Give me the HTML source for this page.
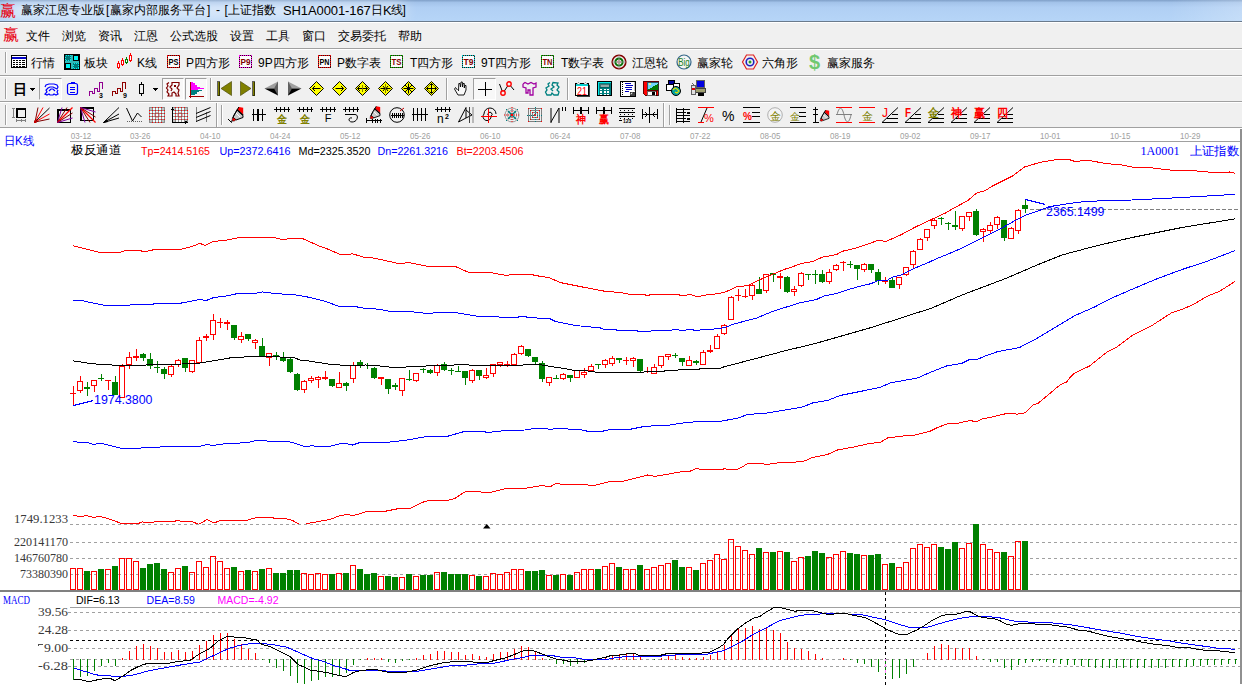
<!DOCTYPE html><html><head><meta charset="utf-8"><title>chart</title><style>html,body{margin:0;padding:0;background:#fff}
body{width:1242px;height:685px;overflow:hidden;position:relative;font-family:"Liberation Sans",sans-serif;font-size:12px;color:#000}
#title{position:absolute;left:0;top:0;width:1242px;height:21px;background:linear-gradient(to right,rgba(255,255,255,0) 0,rgba(255,255,255,0) 1170px,rgba(255,255,255,0.22) 1242px),linear-gradient(#7f9fc8 0%,#a3c3ea 12%,#b0cff4 35%,#b6d5f7 100%);overflow:hidden}
#glow{position:absolute;left:8px;top:3px;width:396px;height:15px;background:rgba(255,255,255,0.62);filter:blur(7px)}
#tline{position:absolute;left:0;top:21px;width:1242px;height:1px;background:#6a7a8c}
#menu{position:absolute;left:0;top:22px;width:1242px;height:26px;background:#f0f0f0;border-top:1px solid #fff;box-sizing:border-box}
.tb{position:absolute;left:0;width:1242px;background:#f0f0f0;box-sizing:border-box;border-top:1px solid #a0a0a0}
.tb:before{content:"";position:absolute;left:0;top:0;width:100%;height:1px;background:#fff}
.t{position:absolute;white-space:nowrap;line-height:14px}
</style></head><body>
<div id="title"><div id="glow"></div></div><div id="tline"></div><div id="menu"></div>
<div class="t" style="left:0px;top:2px;color:#e80010;font-size:16px;line-height:18px;font-family:'Liberation Serif',serif">赢</div>
<div class="t" style="left:21px;top:3px;font-size:12px;line-height:15px">赢家江恩专业版</div>
<div class="t" style="left:106px;top:3px;font-size:12px;line-height:15px">[</div>
<div class="t" style="left:110px;top:3px;font-size:12px;line-height:15px">赢家内部服务平台</div>
<div class="t" style="left:207px;top:3px;font-size:12px;line-height:15px">]</div>
<div class="t" style="left:216px;top:3px;font-size:12px;line-height:15px">-</div>
<div class="t" style="left:224.5px;top:3px;font-size:12px;line-height:15px">[</div>
<div class="t" style="left:228px;top:3px;font-size:12px;line-height:15px">上证指数</div>
<div class="t" style="left:283px;top:3px;font-size:13px;line-height:15px;letter-spacing:-0.1px">SH1A0001-167</div>
<div class="t" style="left:371px;top:3px;font-size:12px;line-height:15px">日</div>
<div class="t" style="left:383px;top:3px;font-size:13px;line-height:15px">K</div>
<div class="t" style="left:390.5px;top:3px;font-size:12px;line-height:15px">线</div>
<div class="t" style="left:402.5px;top:3px;font-size:12px;line-height:15px">]</div>
<div class="t" style="left:3px;top:26px;color:#e80010;font-size:16px;line-height:18px;font-family:'Liberation Serif',serif">赢</div>
<div class="t" style="left:26px;top:28px;line-height:16px">文件</div>
<div class="t" style="left:62px;top:28px;line-height:16px">浏览</div>
<div class="t" style="left:98px;top:28px;line-height:16px">资讯</div>
<div class="t" style="left:134px;top:28px;line-height:16px">江恩</div>
<div class="t" style="left:170px;top:28px;line-height:16px">公式选股</div>
<div class="t" style="left:230px;top:28px;line-height:16px">设置</div>
<div class="t" style="left:266px;top:28px;line-height:16px">工具</div>
<div class="t" style="left:302px;top:28px;line-height:16px">窗口</div>
<div class="t" style="left:338px;top:28px;line-height:16px">交易委托</div>
<div class="t" style="left:398px;top:28px;line-height:16px">帮助</div>
<div class="tb" style="top:48px;height:27px"></div>
<div class="tb" style="top:75px;height:26px"></div>
<div class="tb" style="top:101px;height:27px"></div>
<div style="position:absolute;left:0;top:127px;width:1242px;height:1px;background:#a0a0a0"></div>
<div style="position:absolute;left:5px;top:52px;width:1px;height:21px;background:#a0a0a0"></div><div style="position:absolute;left:6px;top:52px;width:1px;height:21px;background:#fff"></div>
<svg width="16" height="13" viewBox="0 0 16 13" style="position:absolute;left:11px;top:55px;overflow:visible" shape-rendering="crispEdges" ><rect x="0.5" y="0.5" width="15" height="12" fill="#fff" stroke="#000"/><rect x="1" y="2" width="14" height="2" fill="#0000c8" /><line x1="2" y1="5.5" x2="14" y2="5.5" stroke="#000" stroke-width="1" /><line x1="2" y1="7.5" x2="14" y2="7.5" stroke="#000" stroke-width="1" /><line x1="2" y1="9.5" x2="14" y2="9.5" stroke="#000" stroke-width="1" /><line x1="2" y1="11.5" x2="14" y2="11.5" stroke="#000" stroke-width="1" /><line x1="4.5" y1="4" x2="4.5" y2="12" stroke="#fff" stroke-width="1" /><line x1="7.5" y1="4" x2="7.5" y2="12" stroke="#fff" stroke-width="1" /><line x1="10.5" y1="4" x2="10.5" y2="12" stroke="#fff" stroke-width="1" /></svg>
<div class="t" style="left:31px;top:56px;">行情</div>
<svg width="16" height="16" viewBox="0 0 16 16" style="position:absolute;left:64px;top:54px;overflow:visible" shape-rendering="crispEdges" ><rect x="0.5" y="0.5" width="15" height="15" fill="#30b8b8" stroke="#000"/><rect x="1" y="1" width="6" height="6" fill="#007878" /><rect x="1.5" y="1.5" width="5" height="5" fill="none" stroke="#00f0f0" stroke-dasharray="1 1"/><rect x="9.5" y="1.5" width="5" height="5" fill="#00f8f8" stroke="#000"/><rect x="1.5" y="9.5" width="5" height="5" fill="#00f8f8" stroke="#000"/><rect x="9" y="9" width="6" height="6" fill="#007878" /><rect x="9.5" y="9.5" width="5" height="5" fill="none" stroke="#00f0f0" stroke-dasharray="1 1"/></svg>
<div class="t" style="left:84px;top:56px;">板块</div>
<svg width="17" height="17" viewBox="0 0 17 17" style="position:absolute;left:116px;top:53px;overflow:visible" shape-rendering="crispEdges" ><line x1="2.5" y1="8" x2="2.5" y2="16" stroke="#ff0000" stroke-width="1" /><rect x="1.5" y="10" width="2" height="4" fill="#fff" stroke="#ff0000"/><line x1="6.5" y1="5" x2="6.5" y2="13" stroke="#ff0000" stroke-width="1" /><rect x="5.5" y="7" width="2" height="4" fill="#fff" stroke="#ff0000"/><line x1="10.5" y1="4" x2="10.5" y2="11" stroke="#008000" stroke-width="1" /><rect x="9.5" y="6" width="2" height="3" fill="#fff" stroke="#008000"/><line x1="14.5" y1="0" x2="14.5" y2="9" stroke="#ff0000" stroke-width="1" /><rect x="13.5" y="2" width="2" height="5" fill="#fff" stroke="#ff0000"/></svg>
<div class="t" style="left:137px;top:56px;">K线</div>
<svg width="13" height="13" viewBox="0 0 13 13" style="position:absolute;left:167px;top:55px;overflow:visible" shape-rendering="crispEdges" ><rect x="0.5" y="0.5" width="12" height="12" fill="#fcfcfc" stroke="#ff0000"/><rect x="0.5" y="0.5" width="12" height="12" fill="none" stroke="#301010" stroke-dasharray="1 1"/><text x="6.5" y="10" font-size="9" fill="#000" font-family="'Liberation Sans',sans-serif" shape-rendering="auto" text-anchor="middle" font-weight="bold" textLength="10" lengthAdjust="spacingAndGlyphs">PS</text></svg>
<div class="t" style="left:186px;top:56px;">P四方形</div>
<svg width="13" height="13" viewBox="0 0 13 13" style="position:absolute;left:239px;top:55px;overflow:visible" shape-rendering="crispEdges" ><rect x="0.5" y="0.5" width="12" height="12" fill="#fcfcfc" stroke="#ff00ff"/><rect x="0.5" y="0.5" width="12" height="12" fill="none" stroke="#301010" stroke-dasharray="1 1"/><text x="6.5" y="10" font-size="9" fill="#800000" font-family="'Liberation Sans',sans-serif" shape-rendering="auto" text-anchor="middle" font-weight="bold" textLength="10" lengthAdjust="spacingAndGlyphs">P9</text></svg>
<div class="t" style="left:258px;top:56px;">9P四方形</div>
<svg width="13" height="13" viewBox="0 0 13 13" style="position:absolute;left:318px;top:55px;overflow:visible" shape-rendering="crispEdges" ><rect x="0.5" y="0.5" width="12" height="12" fill="#fcfcfc" stroke="#ff0000"/><rect x="0.5" y="0.5" width="12" height="12" fill="none" stroke="#301010" stroke-dasharray="1 1"/><text x="6.5" y="10" font-size="9" fill="#000" font-family="'Liberation Sans',sans-serif" shape-rendering="auto" text-anchor="middle" font-weight="bold" textLength="10" lengthAdjust="spacingAndGlyphs">PN</text></svg>
<div class="t" style="left:337px;top:56px;">P数字表</div>
<svg width="13" height="13" viewBox="0 0 13 13" style="position:absolute;left:390px;top:55px;overflow:visible" shape-rendering="crispEdges" ><rect x="0.5" y="0.5" width="12" height="12" fill="#fcfcfc" stroke="#00c000"/><rect x="0.5" y="0.5" width="12" height="12" fill="none" stroke="#301010" stroke-dasharray="1 1"/><text x="6.5" y="10" font-size="9" fill="#800000" font-family="'Liberation Sans',sans-serif" shape-rendering="auto" text-anchor="middle" font-weight="bold" textLength="10" lengthAdjust="spacingAndGlyphs">TS</text></svg>
<div class="t" style="left:410px;top:56px;">T四方形</div>
<svg width="13" height="13" viewBox="0 0 13 13" style="position:absolute;left:462px;top:55px;overflow:visible" shape-rendering="crispEdges" ><rect x="0.5" y="0.5" width="12" height="12" fill="#fcfcfc" stroke="#00d0d0"/><rect x="0.5" y="0.5" width="12" height="12" fill="none" stroke="#301010" stroke-dasharray="1 1"/><text x="6.5" y="10" font-size="9" fill="#800000" font-family="'Liberation Sans',sans-serif" shape-rendering="auto" text-anchor="middle" font-weight="bold" textLength="10" lengthAdjust="spacingAndGlyphs">T9</text></svg>
<div class="t" style="left:481px;top:56px;">9T四方形</div>
<svg width="13" height="13" viewBox="0 0 13 13" style="position:absolute;left:541px;top:55px;overflow:visible" shape-rendering="crispEdges" ><rect x="0.5" y="0.5" width="12" height="12" fill="#fcfcfc" stroke="#00c000"/><rect x="0.5" y="0.5" width="12" height="12" fill="none" stroke="#301010" stroke-dasharray="1 1"/><text x="6.5" y="10" font-size="9" fill="#800000" font-family="'Liberation Sans',sans-serif" shape-rendering="auto" text-anchor="middle" font-weight="bold" textLength="10" lengthAdjust="spacingAndGlyphs">TN</text></svg>
<div class="t" style="left:561px;top:56px;">T数字表</div>
<svg width="16" height="16" viewBox="0 0 16 16" style="position:absolute;left:611px;top:54px;overflow:visible"  ><circle cx="8" cy="8" r="6.8" stroke="#800000" fill="#f0f0f0" stroke-width="1.6" shape-rendering="auto" /><circle cx="8" cy="8" r="3.6" stroke="#007000" fill="none" stroke-width="2" shape-rendering="auto" /><circle cx="8" cy="8" r="1.4" stroke="#e08080" fill="#f0d0d0" stroke-width="0.8" shape-rendering="auto" /><line x1="8" y1="1" x2="8" y2="15" stroke="#909090" stroke-width="0.8" shape-rendering="auto"/><line x1="1" y1="8" x2="15" y2="8" stroke="#909090" stroke-width="0.8" shape-rendering="auto"/></svg>
<div class="t" style="left:632px;top:56px;">江恩轮</div>
<svg width="16" height="16" viewBox="0 0 16 16" style="position:absolute;left:676px;top:54px;overflow:visible"  ><circle cx="8" cy="8" r="7" stroke="#336688" fill="#f4f4f4" stroke-width="1.2" shape-rendering="auto" /><text x="8" y="12" font-size="11" fill="#208020" font-family="'Liberation Sans',sans-serif" shape-rendering="auto" text-anchor="middle" textLength="11.5" lengthAdjust="spacingAndGlyphs">Big</text></svg>
<div class="t" style="left:697px;top:56px;">赢家轮</div>
<svg width="16" height="16" viewBox="0 0 16 16" style="position:absolute;left:742px;top:54px;overflow:visible"  ><polygon points="4.5,1 11.5,1 15.5,8 11.5,15 4.5,15 0.5,8" fill="#f0f0f0" stroke="#e02020" stroke-width="1.2" shape-rendering="auto"/><circle cx="8" cy="8" r="3.8" stroke="#2020c0" fill="none" stroke-width="1.6" shape-rendering="auto" /><circle cx="8" cy="8" r="1.2" stroke="#20a020" fill="#20a020" stroke-width="0.5" shape-rendering="auto" /></svg>
<div class="t" style="left:762px;top:56px;">六角形</div>
<div class="t" style="left:809px;top:51px;color:#70c870;font-size:20px;font-weight:bold;line-height:22px">$</div>
<div class="t" style="left:827px;top:56px;">赢家服务</div>
<div style="position:absolute;left:5px;top:79px;width:1px;height:20px;background:#a0a0a0"></div><div style="position:absolute;left:6px;top:79px;width:1px;height:20px;background:#fff"></div>
<div class="t" style="left:13px;top:81px;font-weight:bold;font-size:14px;line-height:16px">日</div>
<svg width="5" height="3" viewBox="0 0 5 3" style="position:absolute;left:30px;top:88px;overflow:visible" shape-rendering="crispEdges" ><polygon points="0,0 5,0 2.5,3" fill="#000" stroke="none" stroke-width="1" /></svg>
<div style="position:absolute;left:39px;top:78px;width:23px;height:22px;background:#f8f8f8;border:1px solid;border-color:#a0a0a0 #fff #fff #a0a0a0;box-sizing:border-box"></div>
<svg width="15" height="13" viewBox="0 0 15 13" style="position:absolute;left:44px;top:83px;overflow:visible"  ><polyline points="1,4 2,2 5,1 10,1 13,2 14,4 13,6 11,5 9,4 6,4 4,5 2,7 3,9 1,11 3,12 5,11 6,12 9,12 10,11 12,12 14,11 13,9 14,7" stroke="#0000ff" fill="none" stroke-width="1.2" shape-rendering="auto"/><polyline points="5,8 7,6 9,6 11,8" stroke="#0000ff" fill="none" stroke-width="1.2" shape-rendering="auto"/></svg>
<svg width="11" height="13" viewBox="0 0 11 13" style="position:absolute;left:67px;top:82px;overflow:visible" shape-rendering="crispEdges" ><rect x="0.5" y="1.5" width="10" height="11" rx="2" ry="2" fill="none" stroke="#0000ff" stroke-width="1.2" shape-rendering="auto"/><rect x="3.5" y="0" width="4" height="2" fill="#0000ff" /><line x1="3" y1="5" x2="8" y2="5" stroke="#0000ff" stroke-width="1" /><line x1="3" y1="7.5" x2="8" y2="7.5" stroke="#0000ff" stroke-width="1" /><line x1="3" y1="10" x2="8" y2="10" stroke="#0000ff" stroke-width="1" /></svg>
<svg width="14" height="15" viewBox="0 0 14 15" style="position:absolute;left:89px;top:82px;overflow:visible" shape-rendering="crispEdges" ><polyline points="0.5,13.5 0.5,9.5 3.5,9.5 3.5,11.5 5.5,11.5 5.5,6.5 8.5,6.5 8.5,9.5 10.5,9.5 10.5,0.5 13.5,0.5 13.5,6.5" stroke="#900090" fill="none" stroke-width="1" /><text x="10" y="16" font-size="7" fill="#000" font-family="'Liberation Sans',sans-serif" shape-rendering="auto" font-weight="bold">3</text></svg>
<svg width="14" height="15" viewBox="0 0 14 15" style="position:absolute;left:112px;top:82px;overflow:visible" shape-rendering="crispEdges" ><polyline points="0.5,13.5 0.5,9.5 3.5,9.5 3.5,11.5 5.5,11.5 5.5,6.5 8.5,6.5 8.5,9.5 10.5,9.5 10.5,0.5 13.5,0.5 13.5,6.5" stroke="#900000" fill="none" stroke-width="1" /><text x="11" y="16" font-size="7" fill="#000" font-family="'Liberation Sans',sans-serif" shape-rendering="auto" font-weight="bold">9</text></svg>
<svg width="5" height="14" viewBox="0 0 5 14" style="position:absolute;left:139px;top:82px;overflow:visible" shape-rendering="crispEdges" ><line x1="2.5" y1="0" x2="2.5" y2="14" stroke="#000" stroke-width="1" /><rect x="0.5" y="2.5" width="4" height="9" fill="#f0f0f0" stroke="#000"/></svg>
<svg width="5" height="3" viewBox="0 0 5 3" style="position:absolute;left:153px;top:88px;overflow:visible" shape-rendering="crispEdges" ><polygon points="0,0 5,0 2.5,3" fill="#000" stroke="none" stroke-width="1" /></svg>
<div style="position:absolute;left:162px;top:78px;width:22px;height:22px;background:#f8f8f8;border:1px solid;border-color:#a0a0a0 #fff #fff #a0a0a0;box-sizing:border-box"></div>
<svg width="14" height="15" viewBox="0 0 14 15" style="position:absolute;left:166px;top:82px;overflow:visible"  ><polyline points="3,0.5 1,2 2,4 0.5,6 2,8 1,10 3,12 2,14 6,14 6,11 8,10 10,12 10,14 13,14 12,11 13,8 11,6 13,3 13,0.5 6,0.5 6,3 4,5 6,7 5,9" stroke="#800000" fill="none" stroke-width="1.2" shape-rendering="auto"/><rect x="8" y="3" width="2" height="2" fill="#800000" /></svg>
<div style="position:absolute;left:185px;top:78px;width:22px;height:22px;background:#f8f8f8;border:1px solid;border-color:#a0a0a0 #fff #fff #a0a0a0;box-sizing:border-box"></div>
<svg width="16" height="16" viewBox="0 0 16 16" style="position:absolute;left:189px;top:82px;overflow:visible" shape-rendering="crispEdges" ><polygon points="2,0 2,8 15,7 15,6 11,6 11,5 8,5 8,3 6,3 6,1 4,1 4,0" fill="#ff00ff" stroke="none" stroke-width="1" /><polygon points="2,8 13,8 13,9 10,9 10,10 8,10 8,12 6,12 6,13 2,13" fill="#008080" stroke="none" stroke-width="1" /><line x1="1.5" y1="0" x2="1.5" y2="16" stroke="#a00000" stroke-width="1" /><line x1="0" y1="14.5" x2="15" y2="14.5" stroke="#a00000" stroke-width="1" /></svg>
<div style="position:absolute;left:210px;top:78px;width:1px;height:22px;background:#a0a0a0"></div><div style="position:absolute;left:211px;top:78px;width:1px;height:22px;background:#fff"></div>
<svg width="15" height="15" viewBox="0 0 15 15" style="position:absolute;left:217px;top:81px;overflow:visible" shape-rendering="crispEdges" ><rect x="0.5" y="0.5" width="2" height="14" fill="#808000" stroke="#000" stroke-width="0.6"/><polygon points="14.5,0.5 14.5,14.5 4,7.5" fill="#808000" stroke="#404000" stroke-width="0.6" shape-rendering="auto"/></svg>
<svg width="15" height="15" viewBox="0 0 15 15" style="position:absolute;left:240px;top:81px;overflow:visible" shape-rendering="crispEdges" ><rect x="12.5" y="0.5" width="2" height="14" fill="#808000" stroke="#000" stroke-width="0.6"/><polygon points="0.5,0.5 0.5,14.5 11,7.5" fill="#808000" stroke="#404000" stroke-width="0.6" shape-rendering="auto"/></svg>
<svg width="15" height="15" viewBox="0 0 15 15" style="position:absolute;left:264px;top:81px;overflow:visible"  ><g shape-rendering="auto"><polygon points="14,0.5 14,7.5 0.5,7.5" fill="#a0a0a0" stroke="none" stroke-width="1" /><polygon points="14,14.5 14,7.5 0.5,7.5" fill="#000" stroke="none" stroke-width="1" /><polygon points="14,0.5 14,14.5 10,7.5" fill="#606060" stroke="none" stroke-width="1" /></g></svg>
<svg width="15" height="15" viewBox="0 0 15 15" style="position:absolute;left:287px;top:81px;overflow:visible"  ><g shape-rendering="auto"><polygon points="1,0.5 1,7.5 14.5,7.5" fill="#a0a0a0" stroke="none" stroke-width="1" /><polygon points="1,14.5 1,7.5 14.5,7.5" fill="#000" stroke="none" stroke-width="1" /><polygon points="1,0.5 1,14.5 5,7.5" fill="#606060" stroke="none" stroke-width="1" /></g></svg>
<svg width="15" height="15" viewBox="0 0 15 15" style="position:absolute;left:309px;top:81px;overflow:visible"  ><g shape-rendering="auto"><polygon points="7.5,0.5 14.5,7.5 7.5,14.5 0.5,7.5" fill="#ffff00" stroke="#000" stroke-width="1" shape-rendering="auto"/><line x1="3.5" y1="7.5" x2="11.5" y2="7.5" stroke="#000" stroke-width="1" /><polyline points="6,5 3.5,7.5 6,10" stroke="#000" fill="none" stroke-width="1" /></g></svg>
<svg width="15" height="15" viewBox="0 0 15 15" style="position:absolute;left:332px;top:81px;overflow:visible"  ><g shape-rendering="auto"><polygon points="7.5,0.5 14.5,7.5 7.5,14.5 0.5,7.5" fill="#ffff00" stroke="#000" stroke-width="1" shape-rendering="auto"/><line x1="3.5" y1="7.5" x2="11.5" y2="7.5" stroke="#000" stroke-width="1" /><polyline points="9,5 11.5,7.5 9,10" stroke="#000" fill="none" stroke-width="1" /></g></svg>
<svg width="15" height="15" viewBox="0 0 15 15" style="position:absolute;left:355px;top:81px;overflow:visible"  ><g shape-rendering="auto"><polygon points="7.5,0.5 14.5,7.5 7.5,14.5 0.5,7.5" fill="#ffff00" stroke="#000" stroke-width="1" shape-rendering="auto"/><line x1="2.5" y1="7.5" x2="12.5" y2="7.5" stroke="#000" stroke-width="1" /><polyline points="5,5 2.5,7.5 5,10" stroke="#000" fill="none" stroke-width="1" /><polyline points="10,5 12.5,7.5 10,10" stroke="#000" fill="none" stroke-width="1" /><line x1="7.5" y1="4" x2="7.5" y2="11" stroke="#808000" stroke-width="1" /></g></svg>
<svg width="15" height="15" viewBox="0 0 15 15" style="position:absolute;left:378px;top:81px;overflow:visible"  ><g shape-rendering="auto"><polygon points="7.5,0.5 14.5,7.5 7.5,14.5 0.5,7.5" fill="#ffff00" stroke="#000" stroke-width="1" shape-rendering="auto"/><line x1="2.5" y1="7.5" x2="12.5" y2="7.5" stroke="#000" stroke-width="1" /><polyline points="5,5 7,7.5 5,10" stroke="#000" fill="none" stroke-width="1" /><polyline points="10,5 8,7.5 10,10" stroke="#000" fill="none" stroke-width="1" /><line x1="7.5" y1="3" x2="7.5" y2="12" stroke="#808000" stroke-width="1" /></g></svg>
<svg width="15" height="15" viewBox="0 0 15 15" style="position:absolute;left:401px;top:81px;overflow:visible"  ><g shape-rendering="auto"><polygon points="7.5,0.5 14.5,7.5 7.5,14.5 0.5,7.5" fill="#ffff00" stroke="#000" stroke-width="1" shape-rendering="auto"/><line x1="2.5" y1="7.5" x2="12.5" y2="7.5" stroke="#000" stroke-width="1" /><line x1="7.5" y1="2.5" x2="7.5" y2="12.5" stroke="#000" stroke-width="1" /><line x1="4" y1="4" x2="11" y2="11" stroke="#000" stroke-width="1" /><line x1="11" y1="4" x2="4" y2="11" stroke="#000" stroke-width="1" /></g></svg>
<svg width="15" height="15" viewBox="0 0 15 15" style="position:absolute;left:424px;top:81px;overflow:visible"  ><g shape-rendering="auto"><polygon points="7.5,0.5 14.5,7.5 7.5,14.5 0.5,7.5" fill="#ffff00" stroke="#000" stroke-width="1" shape-rendering="auto"/><line x1="2.5" y1="7.5" x2="12.5" y2="7.5" stroke="#000" stroke-width="1" /><line x1="7.5" y1="2.5" x2="7.5" y2="12.5" stroke="#000" stroke-width="1" /><polyline points="5.5,4.5 7.5,2.5 9.5,4.5" stroke="#000" fill="none" stroke-width="1" /><polyline points="5.5,10.5 7.5,12.5 9.5,10.5" stroke="#000" fill="none" stroke-width="1" /><polyline points="4.5,5.5 2.5,7.5 4.5,9.5" stroke="#000" fill="none" stroke-width="1" /><polyline points="10.5,5.5 12.5,7.5 10.5,9.5" stroke="#000" fill="none" stroke-width="1" /></g></svg>
<div style="position:absolute;left:446px;top:78px;width:1px;height:22px;background:#a0a0a0"></div><div style="position:absolute;left:447px;top:78px;width:1px;height:22px;background:#fff"></div>
<svg width="13" height="15" viewBox="0 0 13 15" style="position:absolute;left:454px;top:81px;overflow:visible"  ><g shape-rendering="auto"><polyline points="3.5,9 1.5,6.5 0.5,8 4,14 10,14 12,9 12,4.5 10.8,4.5 10.3,7 10.3,2.5 9,2.5 8.5,6 8.3,1 7,1 6.5,6 6,2.5 4.8,2.5 4.5,10" stroke="#000" fill="#f8f8f8" stroke-width="0.9" /></g></svg>
<div style="position:absolute;left:473px;top:78px;width:23px;height:22px;background:#f8f8f8;border:1px solid;border-color:#a0a0a0 #fff #fff #a0a0a0;box-sizing:border-box"></div>
<svg width="14" height="14" viewBox="0 0 14 14" style="position:absolute;left:478px;top:82px;overflow:visible" shape-rendering="crispEdges" ><line x1="0" y1="7.5" x2="14" y2="7.5" stroke="#000" stroke-width="1" /><line x1="7.5" y1="0" x2="7.5" y2="14" stroke="#000" stroke-width="1" /></svg>
<svg width="16" height="15" viewBox="0 0 16 15" style="position:absolute;left:499px;top:81px;overflow:visible"  ><g shape-rendering="auto"><polyline points="0.5,3 4,12 10,3 15,9" stroke="#000" fill="none" stroke-width="1" /><circle cx="4" cy="12" r="2.2" stroke="#ff0000" fill="#f0f0f0" stroke-width="1.4" shape-rendering="auto" /><circle cx="10" cy="3" r="2.2" stroke="#ff0000" fill="#f0f0f0" stroke-width="1.4" shape-rendering="auto" /></g></svg>
<svg width="15" height="14" viewBox="0 0 15 14" style="position:absolute;left:522px;top:82px;overflow:visible"  ><polyline points="1,2 3,0.5 6,2 9,0.5 12,2 14,1 14,5 11,6 11,13 8,13 8,8 6,8 6,11 4,11 4,6 1,5 1,2" stroke="#a000a0" fill="none" stroke-width="1.3" shape-rendering="auto"/></svg>
<svg width="15" height="14" viewBox="0 0 15 14" style="position:absolute;left:545px;top:82px;overflow:visible"  ><polyline points="5,0.5 3,2 4,4 1,6 2,8 0.5,10 2,13 6,13 7,11 9,13 13,13 14,10 12,8 14,5 12,3 13,1 8,0.5 7,3 9,5 6,7 8,9" stroke="#008080" fill="none" stroke-width="1.3" shape-rendering="auto"/></svg>
<div style="position:absolute;left:567px;top:78px;width:1px;height:22px;background:#a0a0a0"></div><div style="position:absolute;left:568px;top:78px;width:1px;height:22px;background:#fff"></div>
<svg width="15" height="15" viewBox="0 0 15 15" style="position:absolute;left:575px;top:81px;overflow:visible" shape-rendering="crispEdges" ><rect x="0.5" y="2.5" width="13" height="12" fill="#fff" stroke="#000"/><rect x="1" y="3" width="12" height="2" fill="#00d8d8" /><rect x="13.5" y="4" width="1.5" height="11.5" fill="#404040" /><rect x="1.5" y="14.5" width="13" height="1" fill="#404040" /><polygon points="2,3 3.5,0.5 5,3" fill="#fff" stroke="#808080" stroke-width="0.5" /><polygon points="9,3 10.5,0.5 12,3" fill="#fff" stroke="#808080" stroke-width="0.5" /><text x="7" y="13.5" font-size="10" fill="#ff0000" font-family="'Liberation Sans',sans-serif" shape-rendering="auto" text-anchor="middle" textLength="10" lengthAdjust="spacingAndGlyphs">21</text></svg>
<svg width="15" height="15" viewBox="0 0 15 15" style="position:absolute;left:597px;top:81px;overflow:visible" shape-rendering="crispEdges" ><rect x="0.5" y="0.5" width="14" height="14" fill="#008080" stroke="#000"/><rect x="1" y="1" width="1" height="13" fill="#00e8e8" /><rect x="1" y="1" width="13" height="1" fill="#00e8e8" /><rect x="3" y="3" width="9" height="3" fill="#90a8a8" stroke="#004040" stroke-width="0.5"/><rect x="3" y="7.5" width="2" height="1.5" fill="#fff" /><rect x="6.5" y="7.5" width="2" height="1.5" fill="#fff" /><rect x="10" y="7.5" width="2" height="1.5" fill="#fff" /><rect x="3" y="10" width="2" height="1.5" fill="#fff" /><rect x="6.5" y="10" width="2" height="1.5" fill="#fff" /><rect x="10" y="10" width="2" height="1.5" fill="#fff" /><rect x="3" y="12.5" width="2" height="1.5" fill="#fff" /><rect x="6.5" y="12.5" width="2" height="1.5" fill="#fff" /><rect x="10" y="12.5" width="2" height="1.5" fill="#fff" /></svg>
<svg width="16" height="16" viewBox="0 0 16 16" style="position:absolute;left:620px;top:81px;overflow:visible" shape-rendering="crispEdges" ><polygon points="0.5,0.5 15.5,0.5 15.5,15.5 0.5,15.5" fill="#fff" stroke="#000" stroke-width="1" /><polygon points="10,15 15,10 15,15" fill="#404040" stroke="none" stroke-width="1" /><polygon points="10,15 10,11 14,11" fill="#e0e0e0" stroke="#000" stroke-width="0.6" /><line x1="2.5" y1="1" x2="2.5" y2="15" stroke="#000" stroke-width="1" stroke-dasharray="1 1"/><line x1="5" y1="2.5" x2="11" y2="2.5" stroke="#0000c0" stroke-width="1" /><line x1="6" y1="4.5" x2="13" y2="4.5" stroke="#0000c0" stroke-width="1" /><line x1="5" y1="6.5" x2="12" y2="6.5" stroke="#0000c0" stroke-width="1" /><line x1="6" y1="8.5" x2="12" y2="8.5" stroke="#0000c0" stroke-width="1" /><line x1="5" y1="10.5" x2="9" y2="10.5" stroke="#0000c0" stroke-width="1" /><rect x="13.5" y="1" width="1.5" height="9" fill="#c0c0c0" /></svg>
<svg width="16" height="16" viewBox="0 0 16 16" style="position:absolute;left:643px;top:80px;overflow:visible" shape-rendering="crispEdges" ><polygon points="0.5,1.5 15.5,1.5 15.5,15.5 2.5,15.5 0.5,13.5" fill="#ff0000" stroke="#600000" stroke-width="1" /><rect x="4" y="2" width="11" height="8" fill="#70d8f8" stroke="#000" stroke-width="0.6"/><polygon points="4,10 15,4 15,10" fill="#007800" stroke="none" stroke-width="1" /><rect x="6" y="3" width="2" height="2" fill="#f0f080" /><rect x="4" y="11" width="9" height="4.5" fill="#fff" stroke="#000" stroke-width="0.6"/><rect x="9" y="11.5" width="3" height="3.5" fill="#000" /><rect x="15" y="2" width="1" height="14" fill="#303030" /></svg>
<svg width="16" height="16" viewBox="0 0 16 16" style="position:absolute;left:666px;top:80px;overflow:visible" shape-rendering="crispEdges" ><rect x="2.5" y="0.5" width="6" height="5" fill="#0000a0" stroke="#000"/><rect x="0.5" y="4.5" width="7" height="6" fill="#fff" stroke="#000"/><rect x="7.5" y="3.5" width="6" height="5" fill="#fff" stroke="#000"/><circle cx="10" cy="11" r="4.5" stroke="#000" fill="#00a0a0" stroke-width="1" shape-rendering="auto" /><polyline points="7,10 9,8 11,9 13,11 11,13 9,12" stroke="#e0e000" fill="none" stroke-width="1.2" shape-rendering="auto"/></svg>
<svg width="16" height="16" viewBox="0 0 16 16" style="position:absolute;left:690px;top:80px;overflow:visible" shape-rendering="crispEdges" ><rect x="6.5" y="0.5" width="8" height="7" fill="#0000e0" stroke="#606060"/><rect x="5.5" y="8.5" width="10" height="4" fill="#a0a070" stroke="#404040"/><rect x="1.5" y="5.5" width="4" height="9" fill="#e0e0e0" stroke="#606060"/><rect x="2" y="8" width="3" height="2" fill="#e00000" /><rect x="8" y="12.5" width="6" height="3" fill="#000" /><line x1="2" y1="3" x2="4" y2="5" stroke="#606060" stroke-width="1" /></svg>
<div style="position:absolute;left:5px;top:105px;width:1px;height:20px;background:#a0a0a0"></div><div style="position:absolute;left:6px;top:105px;width:1px;height:20px;background:#fff"></div>
<svg width="16" height="16" viewBox="0 0 16 16" style="position:absolute;left:11px;top:107px;overflow:visible" shape-rendering="crispEdges" ><rect x="5.75" y="1.75" width="8.5" height="8.5" fill="#f0f0f0" stroke="#000" stroke-width="1.5"/><line x1="2.5" y1="1" x2="2.5" y2="11" stroke="#808080" stroke-width="1" /><line x1="1" y1="1.5" x2="4" y2="1.5" stroke="#808080" stroke-width="1" /><line x1="1" y1="10.5" x2="4" y2="10.5" stroke="#808080" stroke-width="1" /><line x1="5" y1="13.5" x2="15" y2="13.5" stroke="#808080" stroke-width="1" /><line x1="5.5" y1="12" x2="5.5" y2="15" stroke="#808080" stroke-width="1" /><line x1="14.5" y1="12" x2="14.5" y2="15" stroke="#808080" stroke-width="1" /><line x1="10" y1="12" x2="10" y2="15" stroke="#808080" stroke-width="1" /></svg>
<svg width="16" height="16" viewBox="0 0 16 16" style="position:absolute;left:34px;top:107px;overflow:visible"  ><g shape-rendering="auto"><line x1="1" y1="15" x2="4" y2="0.5" stroke="#800000" stroke-width="1" /><line x1="1" y1="15" x2="9" y2="0.5" stroke="#ff0000" stroke-width="1" /><line x1="1" y1="15" x2="15.5" y2="1" stroke="#000" stroke-width="1" /><line x1="1" y1="15" x2="15.5" y2="7" stroke="#ff0000" stroke-width="1" /><line x1="1" y1="15" x2="15.5" y2="12" stroke="#800000" stroke-width="1" /><rect x="0" y="13.5" width="2.5" height="2.5" fill="#c00000" /></g></svg>
<svg width="16" height="16" viewBox="0 0 16 16" style="position:absolute;left:57px;top:107px;overflow:visible" shape-rendering="crispEdges" ><rect x="0.75" y="2.75" width="12.5" height="12.5" fill="#f0f0f0" stroke="#000" stroke-width="1.5"/><g shape-rendering="auto"><line x1="0.5" y1="15.5" x2="5" y2="0.5" stroke="#8000a0" stroke-width="1" /><line x1="0.5" y1="15.5" x2="10" y2="0.5" stroke="#800000" stroke-width="1" /><line x1="0.5" y1="15.5" x2="15.5" y2="0.5" stroke="#ff0000" stroke-width="1.3" /><line x1="0.5" y1="15.5" x2="15.5" y2="6" stroke="#800000" stroke-width="1" /><line x1="0.5" y1="15.5" x2="15.5" y2="11" stroke="#8000a0" stroke-width="1" /></g></svg>
<svg width="16" height="16" viewBox="0 0 16 16" style="position:absolute;left:80px;top:107px;overflow:visible" shape-rendering="crispEdges" ><rect x="0.75" y="0.75" width="12.5" height="12.5" fill="#f0f0f0" stroke="#000" stroke-width="1.5"/><g shape-rendering="auto"><line x1="0.5" y1="0.5" x2="5" y2="15.5" stroke="#8000a0" stroke-width="1" /><line x1="0.5" y1="0.5" x2="10" y2="15.5" stroke="#800000" stroke-width="1" /><line x1="0.5" y1="0.5" x2="15.5" y2="15.5" stroke="#ff0000" stroke-width="1.3" /><line x1="0.5" y1="0.5" x2="15.5" y2="10" stroke="#800000" stroke-width="1" /><line x1="0.5" y1="0.5" x2="15.5" y2="5" stroke="#8000a0" stroke-width="1" /></g></svg>
<svg width="16" height="16" viewBox="0 0 16 16" style="position:absolute;left:103px;top:107px;overflow:visible"  ><g shape-rendering="auto"><line x1="0.5" y1="15.5" x2="16" y2="0.5" stroke="#000" stroke-width="1" /><line x1="0.5" y1="15.5" x2="16" y2="7" stroke="#000" stroke-width="1" /><line x1="0.5" y1="15.5" x2="16" y2="11" stroke="#000" stroke-width="1" /><polygon points="0,16 4,12.5 5,15" fill="#000" stroke="none" stroke-width="1" /></g></svg>
<svg width="16" height="16" viewBox="0 0 16 16" style="position:absolute;left:126px;top:107px;overflow:visible" shape-rendering="crispEdges" ><g shape-rendering="auto"><polyline points="0.5,1 6.5,14 11.5,6 15.5,10" stroke="#000" fill="none" stroke-width="1" /></g><line x1="1" y1="14.5" x2="16" y2="14.5" stroke="#606060" stroke-width="1" stroke-dasharray="1 1"/></svg>
<svg width="16" height="16" viewBox="0 0 16 16" style="position:absolute;left:149px;top:107px;overflow:visible" shape-rendering="crispEdges" ><rect x="0" y="0" width="16" height="16" fill="#f8f8f8" /><line x1="0.5" y1="0" x2="0.5" y2="16" stroke="#909090" stroke-width="1" /><line x1="0" y1="0.5" x2="16" y2="0.5" stroke="#909090" stroke-width="1" /><line x1="3.5" y1="0" x2="3.5" y2="16" stroke="#909090" stroke-width="1" /><line x1="0" y1="3.5" x2="16" y2="3.5" stroke="#909090" stroke-width="1" /><line x1="6.5" y1="0" x2="6.5" y2="16" stroke="#909090" stroke-width="1" /><line x1="0" y1="6.5" x2="16" y2="6.5" stroke="#909090" stroke-width="1" /><line x1="9.5" y1="0" x2="9.5" y2="16" stroke="#909090" stroke-width="1" /><line x1="0" y1="9.5" x2="16" y2="9.5" stroke="#909090" stroke-width="1" /><line x1="12.5" y1="0" x2="12.5" y2="16" stroke="#909090" stroke-width="1" /><line x1="0" y1="12.5" x2="16" y2="12.5" stroke="#909090" stroke-width="1" /><line x1="15.5" y1="0" x2="15.5" y2="16" stroke="#909090" stroke-width="1" /><line x1="0" y1="15.5" x2="16" y2="15.5" stroke="#909090" stroke-width="1" /><rect x="0" y="3" width="1" height="1" fill="#ff0000" /><rect x="0" y="6" width="1" height="1" fill="#ff0000" /><rect x="0" y="9" width="1" height="1" fill="#ff0000" /><rect x="0" y="12" width="1" height="1" fill="#ff0000" /><rect x="3" y="0" width="1" height="1" fill="#ff0000" /><rect x="3" y="3" width="1" height="1" fill="#ff0000" /><rect x="3" y="6" width="1" height="1" fill="#ff0000" /><rect x="3" y="9" width="1" height="1" fill="#ff0000" /><rect x="3" y="12" width="1" height="1" fill="#ff0000" /><rect x="3" y="15" width="1" height="1" fill="#ff0000" /><rect x="6" y="0" width="1" height="1" fill="#ff0000" /><rect x="6" y="3" width="1" height="1" fill="#ff0000" /><rect x="6" y="6" width="1" height="1" fill="#ff0000" /><rect x="6" y="9" width="1" height="1" fill="#ff0000" /><rect x="6" y="12" width="1" height="1" fill="#ff0000" /><rect x="6" y="15" width="1" height="1" fill="#ff0000" /><rect x="9" y="0" width="1" height="1" fill="#ff0000" /><rect x="9" y="3" width="1" height="1" fill="#ff0000" /><rect x="9" y="6" width="1" height="1" fill="#ff0000" /><rect x="9" y="9" width="1" height="1" fill="#ff0000" /><rect x="9" y="12" width="1" height="1" fill="#ff0000" /><rect x="9" y="15" width="1" height="1" fill="#ff0000" /><rect x="12" y="0" width="1" height="1" fill="#ff0000" /><rect x="12" y="3" width="1" height="1" fill="#ff0000" /><rect x="12" y="6" width="1" height="1" fill="#ff0000" /><rect x="12" y="9" width="1" height="1" fill="#ff0000" /><rect x="12" y="12" width="1" height="1" fill="#ff0000" /><rect x="12" y="15" width="1" height="1" fill="#ff0000" /><rect x="15" y="3" width="1" height="1" fill="#ff0000" /><rect x="15" y="6" width="1" height="1" fill="#ff0000" /><rect x="15" y="9" width="1" height="1" fill="#ff0000" /><rect x="15" y="12" width="1" height="1" fill="#ff0000" /><circle cx="2" cy="2" r="1.2" stroke="#808080" fill="none" stroke-width="0.6" shape-rendering="auto" /><circle cx="14" cy="2" r="1.2" stroke="#808080" fill="none" stroke-width="0.6" shape-rendering="auto" /><circle cx="2" cy="14" r="1.2" stroke="#808080" fill="none" stroke-width="0.6" shape-rendering="auto" /><circle cx="14" cy="14" r="1.2" stroke="#808080" fill="none" stroke-width="0.6" shape-rendering="auto" /><circle cx="8" cy="8" r="2.2" stroke="#c04040" fill="none" stroke-width="0.7" shape-rendering="auto" /></svg>
<svg width="16" height="16" viewBox="0 0 16 16" style="position:absolute;left:172px;top:107px;overflow:visible" shape-rendering="crispEdges" ><rect x="0" y="0" width="16" height="16" fill="#f8f8f8" /><line x1="0.5" y1="0" x2="0.5" y2="16" stroke="#909090" stroke-width="1" /><line x1="0" y1="0.5" x2="16" y2="0.5" stroke="#909090" stroke-width="1" /><line x1="3.5" y1="0" x2="3.5" y2="16" stroke="#909090" stroke-width="1" /><line x1="0" y1="3.5" x2="16" y2="3.5" stroke="#909090" stroke-width="1" /><line x1="6.5" y1="0" x2="6.5" y2="16" stroke="#909090" stroke-width="1" /><line x1="0" y1="6.5" x2="16" y2="6.5" stroke="#909090" stroke-width="1" /><line x1="9.5" y1="0" x2="9.5" y2="16" stroke="#909090" stroke-width="1" /><line x1="0" y1="9.5" x2="16" y2="9.5" stroke="#909090" stroke-width="1" /><line x1="12.5" y1="0" x2="12.5" y2="16" stroke="#909090" stroke-width="1" /><line x1="0" y1="12.5" x2="16" y2="12.5" stroke="#909090" stroke-width="1" /><line x1="15.5" y1="0" x2="15.5" y2="16" stroke="#909090" stroke-width="1" /><line x1="0" y1="15.5" x2="16" y2="15.5" stroke="#909090" stroke-width="1" /><rect x="0" y="3" width="1" height="1" fill="#ff0000" /><rect x="0" y="6" width="1" height="1" fill="#ff0000" /><rect x="0" y="9" width="1" height="1" fill="#ff0000" /><rect x="0" y="12" width="1" height="1" fill="#ff0000" /><rect x="3" y="0" width="1" height="1" fill="#ff0000" /><rect x="3" y="3" width="1" height="1" fill="#ff0000" /><rect x="3" y="6" width="1" height="1" fill="#ff0000" /><rect x="3" y="9" width="1" height="1" fill="#ff0000" /><rect x="3" y="12" width="1" height="1" fill="#ff0000" /><rect x="3" y="15" width="1" height="1" fill="#ff0000" /><rect x="6" y="0" width="1" height="1" fill="#ff0000" /><rect x="6" y="3" width="1" height="1" fill="#ff0000" /><rect x="6" y="6" width="1" height="1" fill="#ff0000" /><rect x="6" y="9" width="1" height="1" fill="#ff0000" /><rect x="6" y="12" width="1" height="1" fill="#ff0000" /><rect x="6" y="15" width="1" height="1" fill="#ff0000" /><rect x="9" y="0" width="1" height="1" fill="#ff0000" /><rect x="9" y="3" width="1" height="1" fill="#ff0000" /><rect x="9" y="6" width="1" height="1" fill="#ff0000" /><rect x="9" y="9" width="1" height="1" fill="#ff0000" /><rect x="9" y="12" width="1" height="1" fill="#ff0000" /><rect x="9" y="15" width="1" height="1" fill="#ff0000" /><rect x="12" y="0" width="1" height="1" fill="#ff0000" /><rect x="12" y="3" width="1" height="1" fill="#ff0000" /><rect x="12" y="6" width="1" height="1" fill="#ff0000" /><rect x="12" y="9" width="1" height="1" fill="#ff0000" /><rect x="12" y="12" width="1" height="1" fill="#ff0000" /><rect x="12" y="15" width="1" height="1" fill="#ff0000" /><rect x="15" y="3" width="1" height="1" fill="#ff0000" /><rect x="15" y="6" width="1" height="1" fill="#ff0000" /><rect x="15" y="9" width="1" height="1" fill="#ff0000" /><rect x="15" y="12" width="1" height="1" fill="#ff0000" /><circle cx="2" cy="2" r="1.2" stroke="#808080" fill="none" stroke-width="0.6" shape-rendering="auto" /><circle cx="14" cy="2" r="1.2" stroke="#808080" fill="none" stroke-width="0.6" shape-rendering="auto" /><circle cx="2" cy="14" r="1.2" stroke="#808080" fill="none" stroke-width="0.6" shape-rendering="auto" /><circle cx="14" cy="14" r="1.2" stroke="#808080" fill="none" stroke-width="0.6" shape-rendering="auto" /><circle cx="8" cy="8" r="2.2" stroke="#c04040" fill="none" stroke-width="0.7" shape-rendering="auto" /><line x1="0.5" y1="0" x2="0.5" y2="16" stroke="#000" stroke-width="1.6" /><line x1="0" y1="15.5" x2="16" y2="15.5" stroke="#000" stroke-width="1.6" /><polygon points="-1,3 0.5,0 2.5,3" fill="#000" stroke="none" stroke-width="1" /><polygon points="13,13.5 16,15.5 13,17" fill="#000" stroke="none" stroke-width="1" /></svg>
<svg width="16" height="16" viewBox="0 0 16 16" style="position:absolute;left:195px;top:107px;overflow:visible"  ><line x1="1.5" y1="0" x2="1.5" y2="15" stroke="#808080" stroke-width="1" /><line x1="11.5" y1="5" x2="11.5" y2="15" stroke="#808080" stroke-width="1" /><g shape-rendering="auto"><line x1="1" y1="6.5" x2="15.5" y2="0.5" stroke="#000" stroke-width="1" /><line x1="1" y1="10.5" x2="15.5" y2="4.5" stroke="#000" stroke-width="1" /><line x1="1" y1="14.5" x2="15.5" y2="8.5" stroke="#000" stroke-width="1" /></g></svg>
<div style="position:absolute;left:216px;top:103px;width:1px;height:24px;background:#a0a0a0"></div><div style="position:absolute;left:217px;top:103px;width:1px;height:24px;background:#fff"></div>
<div style="position:absolute;left:221px;top:105px;width:1px;height:20px;background:#a0a0a0"></div><div style="position:absolute;left:222px;top:105px;width:1px;height:20px;background:#fff"></div>
<svg width="16" height="16" viewBox="0 0 16 16" style="position:absolute;left:228px;top:107px;overflow:visible"  ><g shape-rendering="auto"><polygon points="9,3 15,8.5 15,10.5 8,13 5,10.5 6,8" fill="#c8c8c8" stroke="#000" stroke-width="1" /><polygon points="9.2,2.6 11,0 15.2,0.8 15.2,7.6" fill="#ff0000" stroke="none" stroke-width="1" /><line x1="10.8" y1="0" x2="4.3" y2="11.5" stroke="#000" stroke-width="1" /><line x1="8.8" y1="2.5" x2="15.2" y2="8.2" stroke="#000" stroke-width="1.2" /><polygon points="5,10.5 8.2,12.6 6,14.2 3.8,13.5" fill="#ff0000" stroke="#000" stroke-width="0.5" /><line x1="8" y1="6" x2="12" y2="10" stroke="#fff" stroke-width="1" /></g><polyline points="0,12 3.5,15.5 4,13.5" stroke="#000" fill="none" stroke-width="1" shape-rendering="auto"/></svg>
<svg width="14" height="16" viewBox="0 0 14 16" style="position:absolute;left:252px;top:107px;overflow:visible" shape-rendering="crispEdges" ><line x1="0" y1="7.5" x2="14" y2="7.5" stroke="#000" stroke-width="1" /><line x1="1.5" y1="2" x2="1.5" y2="14" stroke="#000" stroke-width="1.2" /><line x1="6" y1="2" x2="6" y2="14" stroke="#000" stroke-width="1.2" /><line x1="10.5" y1="2" x2="10.5" y2="14" stroke="#000" stroke-width="1.2" /></svg>
<svg width="16" height="16" viewBox="0 0 16 16" style="position:absolute;left:274px;top:107px;overflow:visible" shape-rendering="crispEdges" ><line x1="0" y1="2.5" x2="16" y2="2.5" stroke="#000" stroke-width="1" /><line x1="2.5" y1="0" x2="2.5" y2="5" stroke="#000" stroke-width="1" /><line x1="6.5" y1="0" x2="6.5" y2="5" stroke="#000" stroke-width="1" /><line x1="10.5" y1="0" x2="10.5" y2="5" stroke="#000" stroke-width="1" /><line x1="14.5" y1="0" x2="14.5" y2="5" stroke="#000" stroke-width="1" /><text x="8" y="15.5" font-size="11" fill="#808000" font-family="'Liberation Sans',sans-serif" shape-rendering="auto" text-anchor="middle" font-weight="bold" textLength="10" lengthAdjust="spacingAndGlyphs">金</text></svg>
<svg width="16" height="16" viewBox="0 0 16 16" style="position:absolute;left:297px;top:107px;overflow:visible" shape-rendering="crispEdges" ><line x1="0" y1="2.5" x2="16" y2="2.5" stroke="#000" stroke-width="1" /><line x1="2.5" y1="0" x2="2.5" y2="5" stroke="#000" stroke-width="1" /><line x1="6.5" y1="0" x2="6.5" y2="5" stroke="#000" stroke-width="1" /><line x1="10.5" y1="0" x2="10.5" y2="5" stroke="#000" stroke-width="1" /><line x1="14.5" y1="0" x2="14.5" y2="5" stroke="#000" stroke-width="1" /><text x="8" y="15.5" font-size="11" fill="#808000" font-family="'Liberation Sans',sans-serif" shape-rendering="auto" text-anchor="middle" font-weight="bold" textLength="10" lengthAdjust="spacingAndGlyphs">金</text></svg>
<svg width="16" height="16" viewBox="0 0 16 16" style="position:absolute;left:320px;top:107px;overflow:visible" shape-rendering="crispEdges" ><line x1="0" y1="2.5" x2="16" y2="2.5" stroke="#000" stroke-width="1" /><line x1="2.5" y1="0" x2="2.5" y2="5" stroke="#000" stroke-width="1" /><line x1="6.5" y1="0" x2="6.5" y2="5" stroke="#000" stroke-width="1" /><line x1="10.5" y1="0" x2="10.5" y2="5" stroke="#000" stroke-width="1" /><line x1="14.5" y1="0" x2="14.5" y2="5" stroke="#000" stroke-width="1" /><text x="8" y="15" font-size="11" fill="#000" font-family="'Liberation Sans',sans-serif" shape-rendering="auto" text-anchor="middle">F</text></svg>
<svg width="16" height="16" viewBox="0 0 16 16" style="position:absolute;left:343px;top:107px;overflow:visible" shape-rendering="crispEdges" ><line x1="0" y1="2.5" x2="16" y2="2.5" stroke="#000" stroke-width="1" /><line x1="2.5" y1="0" x2="2.5" y2="5" stroke="#000" stroke-width="1" /><line x1="6.5" y1="0" x2="6.5" y2="5" stroke="#000" stroke-width="1" /><line x1="10.5" y1="0" x2="10.5" y2="5" stroke="#000" stroke-width="1" /><line x1="14.5" y1="0" x2="14.5" y2="5" stroke="#000" stroke-width="1" /><path d="M2,7.5 H12 C16,7.5 15,15 9,15 C5,15 5,10 9,11" fill="none" stroke="#000" shape-rendering="auto"/></svg>
<svg width="16" height="16" viewBox="0 0 16 16" style="position:absolute;left:366px;top:107px;overflow:visible"  ><g transform="translate(0.5,-0.8) scale(0.9)"><g shape-rendering="auto"><polygon points="9,3 15,8.5 15,10.5 8,13 5,10.5 6,8" fill="#c8c8c8" stroke="#000" stroke-width="1" /><polygon points="9.2,2.6 11,0 15.2,0.8 15.2,7.6" fill="#ff0000" stroke="none" stroke-width="1" /><line x1="10.8" y1="0" x2="4.3" y2="11.5" stroke="#000" stroke-width="1" /><line x1="8.8" y1="2.5" x2="15.2" y2="8.2" stroke="#000" stroke-width="1.2" /><polygon points="5,10.5 8.2,12.6 6,14.2 3.8,13.5" fill="#ff0000" stroke="#000" stroke-width="0.5" /><line x1="8" y1="6" x2="12" y2="10" stroke="#fff" stroke-width="1" /></g></g><line x1="0" y1="13.5" x2="16" y2="13.5" stroke="#000" stroke-width="1" shape-rendering="crispEdges"/><line x1="0.5" y1="11" x2="0.5" y2="16" stroke="#000" stroke-width="1" shape-rendering="crispEdges"/><line x1="6.5" y1="12" x2="6.5" y2="16" stroke="#000" stroke-width="1" shape-rendering="crispEdges"/><line x1="9.5" y1="12" x2="9.5" y2="16" stroke="#000" stroke-width="1" shape-rendering="crispEdges"/><line x1="11.5" y1="12" x2="11.5" y2="16" stroke="#000" stroke-width="1" shape-rendering="crispEdges"/><line x1="14.5" y1="12" x2="14.5" y2="16" stroke="#000" stroke-width="1" shape-rendering="crispEdges"/></svg>
<svg width="16" height="16" viewBox="0 0 16 16" style="position:absolute;left:389px;top:107px;overflow:visible"  ><circle cx="8" cy="8" r="7.3" stroke="#000" fill="none" stroke-width="1" shape-rendering="auto" /><line x1="2" y1="8.5" x2="15" y2="8.5" stroke="#000" stroke-width="1" /><line x1="3.5" y1="6" x2="3.5" y2="11" stroke="#000" stroke-width="1" /><line x1="5.5" y1="6" x2="5.5" y2="11" stroke="#000" stroke-width="1" /><line x1="7.5" y1="6" x2="7.5" y2="11" stroke="#000" stroke-width="1" /><line x1="9.5" y1="6" x2="9.5" y2="11" stroke="#000" stroke-width="1" /><line x1="11.5" y1="6" x2="11.5" y2="11" stroke="#000" stroke-width="1" /><line x1="13.5" y1="6" x2="13.5" y2="11" stroke="#000" stroke-width="1" /><line x1="11" y1="4" x2="15" y2="1" stroke="#c00000" stroke-width="1" shape-rendering="auto"/></svg>
<svg width="16" height="16" viewBox="0 0 16 16" style="position:absolute;left:412px;top:107px;overflow:visible" shape-rendering="crispEdges" ><line x1="0" y1="7.5" x2="16" y2="7.5" stroke="#000" stroke-width="1" /><line x1="1.5" y1="1" x2="1.5" y2="14" stroke="#000" stroke-width="1" /><line x1="5.5" y1="1" x2="5.5" y2="14" stroke="#000" stroke-width="1" /><line x1="9.5" y1="1" x2="9.5" y2="14" stroke="#000" stroke-width="1" /><line x1="13.5" y1="1" x2="13.5" y2="14" stroke="#000" stroke-width="1" /></svg>
<svg width="16" height="16" viewBox="0 0 16 16" style="position:absolute;left:435px;top:107px;overflow:visible" shape-rendering="crispEdges" ><line x1="0" y1="2.5" x2="16" y2="2.5" stroke="#000" stroke-width="1" /><line x1="2.5" y1="0" x2="2.5" y2="5" stroke="#000" stroke-width="1" /><line x1="6.5" y1="0" x2="6.5" y2="5" stroke="#000" stroke-width="1" /><line x1="10.5" y1="0" x2="10.5" y2="5" stroke="#000" stroke-width="1" /><line x1="14.5" y1="0" x2="14.5" y2="5" stroke="#000" stroke-width="1" /><text x="2" y="16" font-size="12" fill="#000" font-family="'Liberation Sans',sans-serif" shape-rendering="auto" >n</text><text x="10" y="12" font-size="7" fill="#000" font-family="'Liberation Sans',sans-serif" shape-rendering="auto" font-weight="bold">2</text></svg>
<svg width="16" height="16" viewBox="0 0 16 16" style="position:absolute;left:458px;top:107px;overflow:visible"  ><g shape-rendering="auto"><polyline points="0.5,15 8,0.5 8,11 0.5,15" stroke="#000" fill="none" stroke-width="1" /><polyline points="8,3 14,8 8,11" stroke="#000" fill="none" stroke-width="1" /><line x1="11.5" y1="0" x2="11.5" y2="16" stroke="#404040" stroke-width="1" /><line x1="15" y1="0" x2="15" y2="16" stroke="#808080" stroke-width="1" /></g></svg>
<svg width="16" height="16" viewBox="0 0 16 16" style="position:absolute;left:481px;top:107px;overflow:visible"  ><path d="M8,9 A2,2 0 1 1 10,9 A4,4 0 1 1 3,7 A6,6 0 0 1 15,7" fill="none" stroke="#000" shape-rendering="auto"/><line x1="0" y1="9.5" x2="16" y2="9.5" stroke="#ff0000" stroke-width="1" /><line x1="7.5" y1="2" x2="7.5" y2="16" stroke="#ff0000" stroke-width="1" /></svg>
<svg width="16" height="16" viewBox="0 0 16 16" style="position:absolute;left:504px;top:107px;overflow:visible"  ><circle cx="8" cy="8" r="7" stroke="#808080" fill="none" stroke-width="0.8" shape-rendering="auto" /><circle cx="8" cy="8" r="4.5" stroke="#808080" fill="none" stroke-width="0.8" shape-rendering="auto" /><circle cx="8" cy="8" r="2" stroke="#808080" fill="none" stroke-width="0.8" shape-rendering="auto" /><line x1="0" y1="8" x2="16" y2="8" stroke="#ff0000" stroke-width="1" stroke-dasharray="1 1"/><line x1="8" y1="0" x2="8" y2="16" stroke="#ff0000" stroke-width="1" stroke-dasharray="1 1"/><line x1="4" y1="4" x2="12" y2="12" stroke="#008080" stroke-width="1.5" shape-rendering="auto"/><line x1="12" y1="4" x2="4" y2="12" stroke="#008080" stroke-width="1.5" shape-rendering="auto"/><rect x="2" y="2" width="1" height="1" fill="#008080" /><rect x="13" y="2" width="1" height="1" fill="#008080" /><rect x="2" y="13" width="1" height="1" fill="#008080" /><rect x="13" y="13" width="1" height="1" fill="#008080" /><rect x="7" y="7" width="2" height="2" fill="#ff0000" /></svg>
<svg width="16" height="16" viewBox="0 0 16 16" style="position:absolute;left:527px;top:107px;overflow:visible" shape-rendering="crispEdges" ><rect x="1.5" y="1.5" width="13" height="13" fill="none" stroke="#808080"/><rect x="3.5" y="3.5" width="9" height="9" fill="none" stroke="#808080"/><rect x="5.5" y="5.5" width="5" height="5" fill="none" stroke="#808080"/><line x1="0" y1="8" x2="16" y2="8" stroke="#008080" stroke-width="1" stroke-dasharray="1 1"/><line x1="8" y1="0" x2="8" y2="16" stroke="#008080" stroke-width="1" stroke-dasharray="1 1"/><rect x="1" y="1" width="1" height="1" fill="#ff0000" /><rect x="14" y="1" width="1" height="1" fill="#ff0000" /><rect x="1" y="14" width="1" height="1" fill="#ff0000" /><rect x="14" y="14" width="1" height="1" fill="#ff0000" /><rect x="3" y="3" width="1" height="1" fill="#ff0000" /><rect x="12" y="3" width="1" height="1" fill="#ff0000" /><rect x="3" y="12" width="1" height="1" fill="#ff0000" /><rect x="12" y="12" width="1" height="1" fill="#ff0000" /><rect x="5" y="5" width="1" height="1" fill="#ff0000" /><rect x="10" y="5" width="1" height="1" fill="#ff0000" /><rect x="5" y="10" width="1" height="1" fill="#ff0000" /><rect x="10" y="10" width="1" height="1" fill="#ff0000" /><rect x="7" y="7" width="2" height="2" fill="#c03030" /></svg>
<svg width="16" height="16" viewBox="0 0 16 16" style="position:absolute;left:550px;top:107px;overflow:visible" shape-rendering="crispEdges" ><g shape-rendering="auto"><polyline points="1,16 1,1" stroke="#000" fill="none" stroke-width="1" /><polyline points="1,15 9,1 9,16" stroke="#000" fill="none" stroke-width="1" /></g><line x1="12.5" y1="0" x2="12.5" y2="4" stroke="#000" stroke-width="1" /><line x1="15.5" y1="0" x2="15.5" y2="4" stroke="#000" stroke-width="1" /></svg>
<svg width="16" height="16" viewBox="0 0 16 16" style="position:absolute;left:573px;top:107px;overflow:visible" shape-rendering="crispEdges" ><line x1="0" y1="3.5" x2="16" y2="3.5" stroke="#000" stroke-width="1.2" /><line x1="0.5" y1="0" x2="0.5" y2="7" stroke="#000" stroke-width="1.2" /><line x1="8" y1="0" x2="8" y2="7" stroke="#000" stroke-width="1.2" /><line x1="15.5" y1="0" x2="15.5" y2="7" stroke="#000" stroke-width="1.2" /><text x="8" y="16" font-size="11" fill="#ff0000" font-family="'Liberation Sans',sans-serif" shape-rendering="auto" text-anchor="middle" font-weight="bold" textLength="10" lengthAdjust="spacingAndGlyphs">神</text></svg>
<svg width="16" height="16" viewBox="0 0 16 16" style="position:absolute;left:596px;top:107px;overflow:visible" shape-rendering="crispEdges" ><line x1="0" y1="3.5" x2="16" y2="3.5" stroke="#000" stroke-width="1.2" /><line x1="0.5" y1="0" x2="0.5" y2="7" stroke="#000" stroke-width="1.2" /><line x1="8" y1="0" x2="8" y2="7" stroke="#000" stroke-width="1.2" /><line x1="15.5" y1="0" x2="15.5" y2="7" stroke="#000" stroke-width="1.2" /><text x="8" y="16" font-size="11" fill="#ff0000" font-family="'Liberation Sans',sans-serif" shape-rendering="auto" text-anchor="middle" font-weight="bold" textLength="10" lengthAdjust="spacingAndGlyphs">赢</text></svg>
<svg width="16" height="16" viewBox="0 0 16 16" style="position:absolute;left:619px;top:107px;overflow:visible" shape-rendering="crispEdges" ><line x1="0" y1="1.5" x2="16" y2="1.5" stroke="#000" stroke-width="1" /><line x1="0" y1="5.5" x2="16" y2="5.5" stroke="#000" stroke-width="1" /><line x1="0" y1="9.5" x2="16" y2="9.5" stroke="#000" stroke-width="1" /><line x1="1.5" y1="1" x2="1.5" y2="13" stroke="#000" stroke-width="1" stroke-dasharray="1 1"/><line x1="5.5" y1="1" x2="5.5" y2="13" stroke="#000" stroke-width="1" stroke-dasharray="1 1"/><line x1="9.5" y1="1" x2="9.5" y2="13" stroke="#000" stroke-width="1" stroke-dasharray="1 1"/><line x1="13.5" y1="1" x2="13.5" y2="13" stroke="#000" stroke-width="1" stroke-dasharray="1 1"/><line x1="0" y1="13.5" x2="3" y2="13.5" stroke="#000" stroke-width="1" /><text x="4" y="16" font-size="5" fill="#000" font-family="'Liberation Sans',sans-serif" shape-rendering="auto" font-weight="bold">123</text></svg>
<svg width="16" height="16" viewBox="0 0 16 16" style="position:absolute;left:642px;top:107px;overflow:visible" shape-rendering="crispEdges" ><line x1="0.5" y1="2" x2="0.5" y2="12" stroke="#000" stroke-width="1" /><line x1="7.5" y1="0" x2="7.5" y2="16" stroke="#000" stroke-width="1" /><line x1="15.5" y1="2" x2="15.5" y2="12" stroke="#000" stroke-width="1" /><line x1="0" y1="7.5" x2="16" y2="7.5" stroke="#000" stroke-width="1" /><g shape-rendering="auto"><polyline points="3,5 5.5,7.5 3,10" stroke="#000" fill="none" stroke-width="1" /><polyline points="13,5 10.5,7.5 13,10" stroke="#000" fill="none" stroke-width="1" /></g></svg>
<div style="position:absolute;left:663px;top:103px;width:1px;height:24px;background:#a0a0a0"></div><div style="position:absolute;left:664px;top:103px;width:1px;height:24px;background:#fff"></div>
<div style="position:absolute;left:669px;top:105px;width:1px;height:20px;background:#a0a0a0"></div><div style="position:absolute;left:670px;top:105px;width:1px;height:20px;background:#fff"></div>
<svg width="16" height="16" viewBox="0 0 16 16" style="position:absolute;left:676px;top:107px;overflow:visible" shape-rendering="crispEdges" ><line x1="0.5" y1="1" x2="0.5" y2="16" stroke="#000" stroke-width="1.3" /><line x1="7.5" y1="1" x2="7.5" y2="16" stroke="#000" stroke-width="1.3" /><line x1="0" y1="2.5" x2="10" y2="2.5" stroke="#000" stroke-width="1" /><line x1="0" y1="5.5" x2="10" y2="5.5" stroke="#000" stroke-width="1" /><line x1="0" y1="8.5" x2="10" y2="8.5" stroke="#000" stroke-width="1" /><line x1="0" y1="11.5" x2="10" y2="11.5" stroke="#000" stroke-width="1" /><line x1="0" y1="14.5" x2="10" y2="14.5" stroke="#000" stroke-width="1" /><line x1="0" y1="14.5" x2="14" y2="14.5" stroke="#000" stroke-width="1" /><rect x="10" y="2" width="4" height="1" fill="#000" /><rect x="11" y="5" width="3" height="2" fill="#000" /><rect x="10" y="8" width="4" height="1" fill="#000" /><rect x="11" y="11" width="3" height="2" fill="#000" /></svg>
<svg width="17" height="16" viewBox="0 0 17 16" style="position:absolute;left:698px;top:107px;overflow:visible" shape-rendering="crispEdges" ><line x1="0" y1="0.5" x2="16" y2="0.5" stroke="#ff0000" stroke-width="1" /><line x1="0" y1="15.5" x2="6" y2="15.5" stroke="#ff0000" stroke-width="1" /><line x1="3" y1="15" x2="9" y2="1" stroke="#000" stroke-width="1" shape-rendering="auto"/><text x="6" y="15" font-size="11" fill="#ff0000" font-family="'Liberation Sans',sans-serif" shape-rendering="auto" >%</text></svg>
<div class="t" style="left:722px;top:107px;font-size:14px;line-height:18px">%</div>
<svg width="17" height="16" viewBox="0 0 17 16" style="position:absolute;left:743px;top:107px;overflow:visible" shape-rendering="crispEdges" ><line x1="0" y1="0.5" x2="17" y2="0.5" stroke="#000" stroke-width="1" /><line x1="9" y1="5.5" x2="17" y2="5.5" stroke="#000" stroke-width="1" /><line x1="9" y1="9.5" x2="17" y2="9.5" stroke="#000" stroke-width="1" /><line x1="0" y1="15.5" x2="17" y2="15.5" stroke="#000" stroke-width="1" /><text x="0" y="13" font-size="10" fill="#ff0000" font-family="'Liberation Sans',sans-serif" shape-rendering="auto" font-weight="bold">%</text></svg>
<svg width="16" height="16" viewBox="0 0 16 16" style="position:absolute;left:767px;top:107px;overflow:visible"  ><circle cx="8" cy="8" r="7.3" stroke="#b0b0b0" fill="#f4f4f4" stroke-width="1" shape-rendering="auto" /><text x="8" y="12.5" font-size="11" fill="#808000" font-family="'Liberation Sans',sans-serif" shape-rendering="auto" text-anchor="middle">金</text></svg>
<svg width="16" height="16" viewBox="0 0 16 16" style="position:absolute;left:790px;top:107px;overflow:visible" shape-rendering="crispEdges" ><line x1="0" y1="0.5" x2="16" y2="0.5" stroke="#000" stroke-width="1" /><line x1="9" y1="5.5" x2="16" y2="5.5" stroke="#000" stroke-width="1" /><line x1="9" y1="9.5" x2="16" y2="9.5" stroke="#000" stroke-width="1" /><line x1="0" y1="15.5" x2="16" y2="15.5" stroke="#000" stroke-width="1" /><text x="0" y="13" font-size="10" fill="#808000" font-family="'Liberation Sans',sans-serif" shape-rendering="auto" >金</text></svg>
<svg width="16" height="16" viewBox="0 0 16 16" style="position:absolute;left:813px;top:107px;overflow:visible"  ><line x1="2.5" y1="0" x2="2.5" y2="16" stroke="#000" stroke-width="1" /><line x1="0" y1="2.5" x2="5" y2="2.5" stroke="#000" stroke-width="1" /><line x1="0" y1="7.5" x2="5" y2="7.5" stroke="#000" stroke-width="1" /><line x1="0" y1="15.5" x2="6" y2="15.5" stroke="#000" stroke-width="1" /><g transform="translate(4,3) scale(0.8)"><g shape-rendering="auto"><polygon points="9,3 15,8.5 15,10.5 8,13 5,10.5 6,8" fill="#c8c8c8" stroke="#000" stroke-width="1" /><polygon points="9.2,2.6 11,0 15.2,0.8 15.2,7.6" fill="#ff0000" stroke="none" stroke-width="1" /><line x1="10.8" y1="0" x2="4.3" y2="11.5" stroke="#000" stroke-width="1" /><line x1="8.8" y1="2.5" x2="15.2" y2="8.2" stroke="#000" stroke-width="1.2" /><polygon points="5,10.5 8.2,12.6 6,14.2 3.8,13.5" fill="#ff0000" stroke="#000" stroke-width="0.5" /><line x1="8" y1="6" x2="12" y2="10" stroke="#fff" stroke-width="1" /></g></g></svg>
<svg width="16" height="16" viewBox="0 0 16 16" style="position:absolute;left:836px;top:107px;overflow:visible"  ><line x1="0" y1="0.5" x2="16" y2="0.5" stroke="#ff0000" stroke-width="1" /><line x1="0" y1="15.5" x2="16" y2="15.5" stroke="#ff0000" stroke-width="1" /><line x1="0" y1="7.5" x2="16" y2="7.5" stroke="#808080" stroke-width="1" /><path d="M1,8 C3,-1 6,-1 8,8 C10,17 13,17 15,8" fill="none" stroke="#808080" shape-rendering="auto"/></svg>
<svg width="16" height="16" viewBox="0 0 16 16" style="position:absolute;left:859px;top:107px;overflow:visible" shape-rendering="crispEdges" ><line x1="0" y1="0.5" x2="16" y2="0.5" stroke="#ff0000" stroke-width="1" /><line x1="0" y1="15.5" x2="16" y2="15.5" stroke="#ff0000" stroke-width="1" /><text x="8" y="13" font-size="11" fill="#808000" font-family="'Liberation Sans',sans-serif" shape-rendering="auto" text-anchor="middle">金</text></svg>
<svg width="16" height="16" viewBox="0 0 16 16" style="position:absolute;left:882px;top:107px;overflow:visible" shape-rendering="crispEdges" ><g shape-rendering="auto"><line x1="0" y1="15.5" x2="16" y2="0.5" stroke="#000" stroke-width="1" /></g><line x1="0" y1="15.5" x2="16" y2="15.5" stroke="#000" stroke-width="1" /><line x1="5" y1="11.5" x2="16" y2="11.5" stroke="#000" stroke-width="1" /><line x1="9.5" y1="7.5" x2="16" y2="7.5" stroke="#000" stroke-width="1" /><text x="0" y="10" font-size="12" fill="#ff0000" font-family="'Liberation Sans',sans-serif" shape-rendering="auto" font-weight="normal" textLength="6" lengthAdjust="spacingAndGlyphs">J</text></svg>
<svg width="16" height="16" viewBox="0 0 16 16" style="position:absolute;left:905px;top:107px;overflow:visible" shape-rendering="crispEdges" ><g shape-rendering="auto"><line x1="0" y1="15.5" x2="16" y2="0.5" stroke="#000" stroke-width="1" /></g><line x1="0" y1="15.5" x2="16" y2="15.5" stroke="#000" stroke-width="1" /><line x1="5" y1="11.5" x2="16" y2="11.5" stroke="#000" stroke-width="1" /><line x1="9.5" y1="7.5" x2="16" y2="7.5" stroke="#000" stroke-width="1" /><text x="0" y="10" font-size="12" fill="#ff0000" font-family="'Liberation Sans',sans-serif" shape-rendering="auto" font-weight="bold" textLength="6" lengthAdjust="spacingAndGlyphs">F</text></svg>
<svg width="16" height="16" viewBox="0 0 16 16" style="position:absolute;left:928px;top:107px;overflow:visible" shape-rendering="crispEdges" ><g shape-rendering="auto"><line x1="0" y1="15.5" x2="16" y2="0.5" stroke="#000" stroke-width="1" /></g><line x1="0" y1="15.5" x2="16" y2="15.5" stroke="#000" stroke-width="1" /><line x1="5" y1="11.5" x2="16" y2="11.5" stroke="#000" stroke-width="1" /><line x1="9.5" y1="7.5" x2="16" y2="7.5" stroke="#000" stroke-width="1" /><text x="0" y="10" font-size="12" fill="#808000" font-family="'Liberation Sans',sans-serif" shape-rendering="auto" font-weight="bold" textLength="11" lengthAdjust="spacingAndGlyphs">金</text></svg>
<svg width="16" height="16" viewBox="0 0 16 16" style="position:absolute;left:951px;top:107px;overflow:visible" shape-rendering="crispEdges" ><g shape-rendering="auto"><line x1="0" y1="15.5" x2="16" y2="0.5" stroke="#000" stroke-width="1" /></g><line x1="0" y1="15.5" x2="16" y2="15.5" stroke="#000" stroke-width="1" /><line x1="5" y1="11.5" x2="16" y2="11.5" stroke="#000" stroke-width="1" /><line x1="9.5" y1="7.5" x2="16" y2="7.5" stroke="#000" stroke-width="1" /><text x="0" y="10" font-size="12" fill="#ff0000" font-family="'Liberation Sans',sans-serif" shape-rendering="auto" font-weight="bold" textLength="11" lengthAdjust="spacingAndGlyphs">神</text></svg>
<svg width="16" height="16" viewBox="0 0 16 16" style="position:absolute;left:974px;top:107px;overflow:visible" shape-rendering="crispEdges" ><g shape-rendering="auto"><line x1="0" y1="15.5" x2="16" y2="0.5" stroke="#000" stroke-width="1" /></g><line x1="0" y1="15.5" x2="16" y2="15.5" stroke="#000" stroke-width="1" /><line x1="5" y1="11.5" x2="16" y2="11.5" stroke="#000" stroke-width="1" /><line x1="9.5" y1="7.5" x2="16" y2="7.5" stroke="#000" stroke-width="1" /><text x="0" y="10" font-size="12" fill="#ff0000" font-family="'Liberation Sans',sans-serif" shape-rendering="auto" font-weight="bold" textLength="11" lengthAdjust="spacingAndGlyphs">赢</text></svg>
<svg width="16" height="16" viewBox="0 0 16 16" style="position:absolute;left:997px;top:107px;overflow:visible" shape-rendering="crispEdges" ><g shape-rendering="auto"><line x1="0" y1="15.5" x2="16" y2="0.5" stroke="#000" stroke-width="1" /></g><line x1="0" y1="15.5" x2="16" y2="15.5" stroke="#000" stroke-width="1" /><line x1="5" y1="11.5" x2="16" y2="11.5" stroke="#000" stroke-width="1" /><line x1="9.5" y1="7.5" x2="16" y2="7.5" stroke="#000" stroke-width="1" /><text x="0" y="10" font-size="12" fill="#ff0000" font-family="'Liberation Sans',sans-serif" shape-rendering="auto" font-weight="bold" textLength="11" lengthAdjust="spacingAndGlyphs">四</text></svg>
<svg id="chart" width="1242" height="557" viewBox="0 0 1242 557" shape-rendering="crispEdges" style="position:absolute;left:0;top:128px;font-family:'Liberation Sans',sans-serif">
<rect x="0" y="0" width="1242" height="557" fill="#fff"/>
<rect x="70" y="13" width="1170" height="1" fill="#a0a0a0"/>
<rect x="1240" y="1" width="2" height="555" fill="#909090"/>
<line x1="70" x2="1240" y1="396.5" y2="396.5" stroke="#a0a0a0" stroke-dasharray="3 3"/>
<line x1="70" x2="1240" y1="414.5" y2="414.5" stroke="#a0a0a0" stroke-dasharray="3 3"/>
<line x1="70" x2="1240" y1="430.5" y2="430.5" stroke="#a0a0a0" stroke-dasharray="3 3"/>
<line x1="70" x2="1240" y1="446.5" y2="446.5" stroke="#a0a0a0" stroke-dasharray="3 3"/>
<rect x="0" y="462" width="1242" height="2" fill="#808080"/>
<rect x="70" y="479" width="1170" height="1" fill="#a0a0a0"/>
<line x1="68" x2="1240" y1="484.5" y2="484.5" stroke="#a0a0a0" stroke-dasharray="3 3"/>
<line x1="68" x2="1240" y1="502.5" y2="502.5" stroke="#a0a0a0" stroke-dasharray="3 3"/>
<line x1="68" x2="1240" y1="520.5" y2="520.5" stroke="#a0a0a0" stroke-dasharray="3 3"/>
<line x1="68" x2="1240" y1="538.5" y2="538.5" stroke="#a0a0a0" stroke-dasharray="3 3"/>
<line x1="70" x2="1240" y1="531.5" y2="531.5" stroke="#a0a0a0" stroke-dasharray="3 3"/>
<line x1="70" x2="1240" y1="512.5" y2="512.5" stroke="#000" stroke-dasharray="3 3"/>
<line x1="885.5" x2="885.5" y1="464" y2="557" stroke="#000" stroke-dasharray="3 3"/>
<line x1="1030" x2="1240" y1="81.5" y2="81.5" stroke="#808080" stroke-dasharray="4 2"/>
<rect x="70.5" y="440.5" width="5" height="21" fill="none" stroke="#ff0000"/>
<rect x="77.5" y="440.5" width="5" height="21" fill="none" stroke="#ff0000"/>
<rect x="84" y="443" width="6" height="19" fill="#008000"/>
<rect x="91.5" y="443.5" width="5" height="18" fill="none" stroke="#ff0000"/>
<rect x="98" y="441" width="6" height="21" fill="#008000"/>
<rect x="105.5" y="441.5" width="5" height="20" fill="none" stroke="#ff0000"/>
<rect x="112" y="438" width="6" height="24" fill="#008000"/>
<rect x="119.5" y="430.5" width="5" height="31" fill="none" stroke="#ff0000"/>
<rect x="126.5" y="430.5" width="5" height="31" fill="none" stroke="#ff0000"/>
<rect x="133.5" y="433.5" width="5" height="28" fill="none" stroke="#ff0000"/>
<rect x="140" y="440" width="6" height="22" fill="#008000"/>
<rect x="147" y="436" width="6" height="26" fill="#008000"/>
<rect x="154" y="435" width="6" height="27" fill="#008000"/>
<rect x="161" y="441" width="6" height="21" fill="#008000"/>
<rect x="168.5" y="444.5" width="5" height="17" fill="none" stroke="#ff0000"/>
<rect x="175.5" y="440.5" width="5" height="21" fill="none" stroke="#ff0000"/>
<rect x="182" y="438" width="6" height="24" fill="#008000"/>
<rect x="189.5" y="444.5" width="5" height="17" fill="none" stroke="#ff0000"/>
<rect x="196.5" y="433.5" width="5" height="28" fill="none" stroke="#ff0000"/>
<rect x="203.5" y="439.5" width="5" height="22" fill="none" stroke="#ff0000"/>
<rect x="210.5" y="428.5" width="5" height="33" fill="none" stroke="#ff0000"/>
<rect x="217.5" y="433.5" width="5" height="28" fill="none" stroke="#ff0000"/>
<rect x="224.5" y="440.5" width="5" height="21" fill="none" stroke="#ff0000"/>
<rect x="231" y="439" width="6" height="23" fill="#008000"/>
<rect x="238.5" y="443.5" width="5" height="18" fill="none" stroke="#ff0000"/>
<rect x="245" y="442" width="6" height="20" fill="#008000"/>
<rect x="252.5" y="443.5" width="5" height="18" fill="none" stroke="#ff0000"/>
<rect x="259" y="441" width="6" height="21" fill="#008000"/>
<rect x="266.5" y="440.5" width="5" height="21" fill="none" stroke="#ff0000"/>
<rect x="273" y="445" width="6" height="17" fill="#008000"/>
<rect x="280" y="445" width="6" height="17" fill="#008000"/>
<rect x="287" y="442" width="6" height="20" fill="#008000"/>
<rect x="294" y="442" width="6" height="20" fill="#008000"/>
<rect x="301.5" y="445.5" width="5" height="16" fill="none" stroke="#ff0000"/>
<rect x="308.5" y="446.5" width="5" height="15" fill="none" stroke="#ff0000"/>
<rect x="315.5" y="445.5" width="5" height="16" fill="none" stroke="#ff0000"/>
<rect x="322.5" y="446.5" width="5" height="15" fill="none" stroke="#ff0000"/>
<rect x="329" y="446" width="6" height="16" fill="#008000"/>
<rect x="336.5" y="445.5" width="5" height="16" fill="none" stroke="#ff0000"/>
<rect x="343" y="445" width="6" height="17" fill="#008000"/>
<rect x="350.5" y="437.5" width="5" height="24" fill="none" stroke="#ff0000"/>
<rect x="357" y="441" width="6" height="21" fill="#008000"/>
<rect x="364" y="446" width="6" height="16" fill="#008000"/>
<rect x="371" y="445" width="6" height="17" fill="#008000"/>
<rect x="378.5" y="448.5" width="5" height="13" fill="none" stroke="#ff0000"/>
<rect x="385" y="448" width="6" height="14" fill="#008000"/>
<rect x="392" y="449" width="6" height="13" fill="#008000"/>
<rect x="399.5" y="449.5" width="5" height="12" fill="none" stroke="#ff0000"/>
<rect x="406" y="446" width="6" height="16" fill="#008000"/>
<rect x="413.5" y="448.5" width="5" height="13" fill="none" stroke="#ff0000"/>
<rect x="420" y="447" width="6" height="15" fill="#008000"/>
<rect x="427" y="447" width="6" height="15" fill="#008000"/>
<rect x="434.5" y="444.5" width="5" height="17" fill="none" stroke="#ff0000"/>
<rect x="441" y="444" width="6" height="18" fill="#008000"/>
<rect x="448" y="446" width="6" height="16" fill="#008000"/>
<rect x="455" y="446" width="6" height="16" fill="#008000"/>
<rect x="462" y="446" width="6" height="16" fill="#008000"/>
<rect x="469.5" y="447.5" width="5" height="14" fill="none" stroke="#ff0000"/>
<rect x="476" y="448" width="6" height="14" fill="#008000"/>
<rect x="483.5" y="448.5" width="5" height="13" fill="none" stroke="#ff0000"/>
<rect x="490.5" y="445.5" width="5" height="16" fill="none" stroke="#ff0000"/>
<rect x="497.5" y="446.5" width="5" height="15" fill="none" stroke="#ff0000"/>
<rect x="504.5" y="444.5" width="5" height="17" fill="none" stroke="#ff0000"/>
<rect x="511.5" y="441.5" width="5" height="20" fill="none" stroke="#ff0000"/>
<rect x="518.5" y="441.5" width="5" height="20" fill="none" stroke="#ff0000"/>
<rect x="525" y="443" width="6" height="19" fill="#008000"/>
<rect x="532" y="443" width="6" height="19" fill="#008000"/>
<rect x="539" y="442" width="6" height="20" fill="#008000"/>
<rect x="546.5" y="447.5" width="5" height="14" fill="none" stroke="#ff0000"/>
<rect x="553" y="447" width="6" height="15" fill="#008000"/>
<rect x="560.5" y="446.5" width="5" height="15" fill="none" stroke="#ff0000"/>
<rect x="567" y="447" width="6" height="15" fill="#008000"/>
<rect x="574.5" y="444.5" width="5" height="17" fill="none" stroke="#ff0000"/>
<rect x="581.5" y="441.5" width="5" height="20" fill="none" stroke="#ff0000"/>
<rect x="588.5" y="441.5" width="5" height="20" fill="none" stroke="#ff0000"/>
<rect x="595" y="441" width="6" height="21" fill="#008000"/>
<rect x="602.5" y="438.5" width="5" height="23" fill="none" stroke="#ff0000"/>
<rect x="609.5" y="435.5" width="5" height="26" fill="none" stroke="#ff0000"/>
<rect x="616" y="439" width="6" height="23" fill="#008000"/>
<rect x="623.5" y="441.5" width="5" height="20" fill="none" stroke="#ff0000"/>
<rect x="630.5" y="441.5" width="5" height="20" fill="none" stroke="#ff0000"/>
<rect x="637" y="437" width="6" height="25" fill="#008000"/>
<rect x="644.5" y="441.5" width="5" height="20" fill="none" stroke="#ff0000"/>
<rect x="651.5" y="439.5" width="5" height="22" fill="none" stroke="#ff0000"/>
<rect x="658.5" y="437.5" width="5" height="24" fill="none" stroke="#ff0000"/>
<rect x="665.5" y="435.5" width="5" height="26" fill="none" stroke="#ff0000"/>
<rect x="672" y="432" width="6" height="30" fill="#008000"/>
<rect x="679" y="439" width="6" height="23" fill="#008000"/>
<rect x="686.5" y="439.5" width="5" height="22" fill="none" stroke="#ff0000"/>
<rect x="693" y="442" width="6" height="20" fill="#008000"/>
<rect x="700.5" y="435.5" width="5" height="26" fill="none" stroke="#ff0000"/>
<rect x="707.5" y="432.5" width="5" height="29" fill="none" stroke="#ff0000"/>
<rect x="714.5" y="426.5" width="5" height="35" fill="none" stroke="#ff0000"/>
<rect x="721.5" y="431.5" width="5" height="30" fill="none" stroke="#ff0000"/>
<rect x="728.5" y="411.5" width="5" height="50" fill="none" stroke="#ff0000"/>
<rect x="735.5" y="418.5" width="5" height="43" fill="none" stroke="#ff0000"/>
<rect x="742.5" y="422.5" width="5" height="39" fill="none" stroke="#ff0000"/>
<rect x="749.5" y="426.5" width="5" height="35" fill="none" stroke="#ff0000"/>
<rect x="756" y="420" width="6" height="42" fill="#008000"/>
<rect x="763.5" y="424.5" width="5" height="37" fill="none" stroke="#ff0000"/>
<rect x="770" y="424" width="6" height="38" fill="#008000"/>
<rect x="777.5" y="423.5" width="5" height="38" fill="none" stroke="#ff0000"/>
<rect x="784" y="424" width="6" height="38" fill="#008000"/>
<rect x="791.5" y="433.5" width="5" height="28" fill="none" stroke="#ff0000"/>
<rect x="798.5" y="429.5" width="5" height="32" fill="none" stroke="#ff0000"/>
<rect x="805" y="428" width="6" height="34" fill="#008000"/>
<rect x="812" y="423" width="6" height="39" fill="#008000"/>
<rect x="819" y="425" width="6" height="37" fill="#008000"/>
<rect x="826.5" y="429.5" width="5" height="32" fill="none" stroke="#ff0000"/>
<rect x="833.5" y="426.5" width="5" height="35" fill="none" stroke="#ff0000"/>
<rect x="840.5" y="423.5" width="5" height="38" fill="none" stroke="#ff0000"/>
<rect x="847" y="425" width="6" height="37" fill="#008000"/>
<rect x="854" y="426" width="6" height="36" fill="#008000"/>
<rect x="861.5" y="427.5" width="5" height="34" fill="none" stroke="#ff0000"/>
<rect x="868" y="427" width="6" height="35" fill="#008000"/>
<rect x="875" y="426" width="6" height="36" fill="#008000"/>
<rect x="882.5" y="436.5" width="5" height="25" fill="none" stroke="#ff0000"/>
<rect x="889" y="435" width="6" height="27" fill="#008000"/>
<rect x="896.5" y="439.5" width="5" height="22" fill="none" stroke="#ff0000"/>
<rect x="903.5" y="434.5" width="5" height="27" fill="none" stroke="#ff0000"/>
<rect x="910.5" y="420.5" width="5" height="41" fill="none" stroke="#ff0000"/>
<rect x="917.5" y="416.5" width="5" height="45" fill="none" stroke="#ff0000"/>
<rect x="924.5" y="419.5" width="5" height="42" fill="none" stroke="#ff0000"/>
<rect x="931.5" y="416.5" width="5" height="45" fill="none" stroke="#ff0000"/>
<rect x="938" y="419" width="6" height="43" fill="#008000"/>
<rect x="945" y="421" width="6" height="41" fill="#008000"/>
<rect x="952" y="414" width="6" height="48" fill="#008000"/>
<rect x="959.5" y="420.5" width="5" height="41" fill="none" stroke="#ff0000"/>
<rect x="966.5" y="415.5" width="5" height="46" fill="none" stroke="#ff0000"/>
<rect x="973" y="396" width="6" height="66" fill="#008000"/>
<rect x="980.5" y="416.5" width="5" height="45" fill="none" stroke="#ff0000"/>
<rect x="987.5" y="421.5" width="5" height="40" fill="none" stroke="#ff0000"/>
<rect x="994.5" y="424.5" width="5" height="37" fill="none" stroke="#ff0000"/>
<rect x="1001" y="424" width="6" height="38" fill="#008000"/>
<rect x="1008.5" y="428.5" width="5" height="33" fill="none" stroke="#ff0000"/>
<rect x="1015.5" y="413.5" width="5" height="48" fill="none" stroke="#ff0000"/>
<rect x="1022" y="413" width="6" height="49" fill="#008000"/>
<rect x="73" y="258" width="1" height="19" fill="#ff0000"/>
<rect x="70" y="265" width="6" height="1" fill="#ff0000"/>
<rect x="80" y="248" width="1" height="5" fill="#ff0000"/>
<rect x="80" y="263" width="1" height="2" fill="#ff0000"/>
<rect x="77.5" y="253.5" width="5" height="9" fill="none" stroke="#ff0000"/>
<rect x="87" y="254" width="1" height="14" fill="#008000"/>
<rect x="84" y="259" width="6" height="2" fill="#008000"/>
<rect x="94" y="258" width="1" height="6" fill="#ff0000"/>
<rect x="91.5" y="252.5" width="5" height="5" fill="none" stroke="#ff0000"/>
<rect x="101" y="246" width="1" height="7" fill="#008000"/>
<rect x="98" y="250" width="6" height="1" fill="#008000"/>
<rect x="108" y="252" width="1" height="10" fill="#ff0000"/>
<rect x="105" y="252" width="6" height="1" fill="#ff0000"/>
<rect x="115" y="248" width="1" height="19" fill="#008000"/>
<rect x="112" y="254" width="6" height="13" fill="#008000"/>
<rect x="122" y="236" width="1" height="2" fill="#ff0000"/>
<rect x="119.5" y="238.5" width="5" height="31" fill="none" stroke="#ff0000"/>
<rect x="129" y="224" width="1" height="5" fill="#ff0000"/>
<rect x="129" y="237" width="1" height="4" fill="#ff0000"/>
<rect x="126.5" y="229.5" width="5" height="7" fill="none" stroke="#ff0000"/>
<rect x="136" y="221" width="1" height="12" fill="#ff0000"/>
<rect x="133" y="228" width="6" height="2" fill="#ff0000"/>
<rect x="143" y="225" width="1" height="8" fill="#008000"/>
<rect x="140" y="226" width="6" height="4" fill="#008000"/>
<rect x="150" y="225" width="1" height="16" fill="#008000"/>
<rect x="147" y="231" width="6" height="7" fill="#008000"/>
<rect x="157" y="233" width="1" height="12" fill="#008000"/>
<rect x="154" y="239" width="6" height="1" fill="#008000"/>
<rect x="164" y="239" width="1" height="12" fill="#008000"/>
<rect x="161" y="241" width="6" height="5" fill="#008000"/>
<rect x="171" y="237" width="1" height="1" fill="#ff0000"/>
<rect x="171" y="247" width="1" height="2" fill="#ff0000"/>
<rect x="168.5" y="238.5" width="5" height="8" fill="none" stroke="#ff0000"/>
<rect x="178" y="231" width="1" height="1" fill="#ff0000"/>
<rect x="178" y="237" width="1" height="2" fill="#ff0000"/>
<rect x="175.5" y="232.5" width="5" height="4" fill="none" stroke="#ff0000"/>
<rect x="185" y="230" width="1" height="14" fill="#008000"/>
<rect x="182" y="230" width="6" height="10" fill="#008000"/>
<rect x="192" y="244" width="1" height="1" fill="#ff0000"/>
<rect x="189.5" y="232.5" width="5" height="11" fill="none" stroke="#ff0000"/>
<rect x="199" y="209" width="1" height="3" fill="#ff0000"/>
<rect x="196.5" y="212.5" width="5" height="22" fill="none" stroke="#ff0000"/>
<rect x="206" y="206" width="1" height="7" fill="#ff0000"/>
<rect x="203" y="208" width="6" height="2" fill="#ff0000"/>
<rect x="213" y="186" width="1" height="6" fill="#ff0000"/>
<rect x="213" y="207" width="1" height="5" fill="#ff0000"/>
<rect x="210.5" y="192.5" width="5" height="14" fill="none" stroke="#ff0000"/>
<rect x="220" y="190" width="1" height="10" fill="#ff0000"/>
<rect x="217" y="194" width="6" height="1" fill="#ff0000"/>
<rect x="227" y="192" width="1" height="10" fill="#ff0000"/>
<rect x="224" y="194" width="6" height="2" fill="#ff0000"/>
<rect x="234" y="197" width="1" height="15" fill="#008000"/>
<rect x="231" y="197" width="6" height="13" fill="#008000"/>
<rect x="241" y="204" width="1" height="4" fill="#ff0000"/>
<rect x="241" y="212" width="1" height="3" fill="#ff0000"/>
<rect x="238.5" y="208.5" width="5" height="3" fill="none" stroke="#ff0000"/>
<rect x="248" y="206" width="1" height="7" fill="#008000"/>
<rect x="245" y="206" width="6" height="5" fill="#008000"/>
<rect x="255" y="211" width="1" height="1" fill="#ff0000"/>
<rect x="255" y="215" width="1" height="6" fill="#ff0000"/>
<rect x="252.5" y="212.5" width="5" height="2" fill="none" stroke="#ff0000"/>
<rect x="262" y="210" width="1" height="18" fill="#008000"/>
<rect x="259" y="218" width="6" height="10" fill="#008000"/>
<rect x="269" y="230" width="1" height="8" fill="#ff0000"/>
<rect x="266.5" y="225.5" width="5" height="4" fill="none" stroke="#ff0000"/>
<rect x="276" y="224" width="1" height="8" fill="#008000"/>
<rect x="273" y="227" width="6" height="1" fill="#008000"/>
<rect x="283" y="224" width="1" height="10" fill="#008000"/>
<rect x="280" y="229" width="6" height="4" fill="#008000"/>
<rect x="290" y="230" width="1" height="15" fill="#008000"/>
<rect x="287" y="231" width="6" height="13" fill="#008000"/>
<rect x="297" y="245" width="1" height="18" fill="#008000"/>
<rect x="294" y="246" width="6" height="16" fill="#008000"/>
<rect x="304" y="252" width="1" height="1" fill="#ff0000"/>
<rect x="304" y="262" width="1" height="3" fill="#ff0000"/>
<rect x="301.5" y="253.5" width="5" height="8" fill="none" stroke="#ff0000"/>
<rect x="311" y="248" width="1" height="2" fill="#ff0000"/>
<rect x="311" y="253" width="1" height="2" fill="#ff0000"/>
<rect x="308.5" y="250.5" width="5" height="2" fill="none" stroke="#ff0000"/>
<rect x="318" y="248" width="1" height="1" fill="#ff0000"/>
<rect x="318" y="252" width="1" height="8" fill="#ff0000"/>
<rect x="315.5" y="249.5" width="5" height="2" fill="none" stroke="#ff0000"/>
<rect x="325" y="243" width="1" height="9" fill="#ff0000"/>
<rect x="322" y="249" width="6" height="2" fill="#ff0000"/>
<rect x="332" y="251" width="1" height="8" fill="#008000"/>
<rect x="329" y="251" width="6" height="7" fill="#008000"/>
<rect x="339" y="244" width="1" height="11" fill="#ff0000"/>
<rect x="336.5" y="255.5" width="5" height="4" fill="none" stroke="#ff0000"/>
<rect x="346" y="254" width="1" height="9" fill="#008000"/>
<rect x="343" y="255" width="6" height="3" fill="#008000"/>
<rect x="353" y="234" width="1" height="3" fill="#ff0000"/>
<rect x="353" y="251" width="1" height="4" fill="#ff0000"/>
<rect x="350.5" y="237.5" width="5" height="13" fill="none" stroke="#ff0000"/>
<rect x="360" y="232" width="1" height="8" fill="#008000"/>
<rect x="357" y="234" width="6" height="4" fill="#008000"/>
<rect x="367" y="235" width="1" height="6" fill="#008000"/>
<rect x="374" y="239" width="1" height="12" fill="#008000"/>
<rect x="371" y="240" width="6" height="10" fill="#008000"/>
<rect x="381" y="249" width="1" height="8" fill="#ff0000"/>
<rect x="378" y="249" width="6" height="2" fill="#ff0000"/>
<rect x="388" y="251" width="1" height="15" fill="#008000"/>
<rect x="385" y="251" width="6" height="10" fill="#008000"/>
<rect x="395" y="255" width="1" height="7" fill="#008000"/>
<rect x="392" y="257" width="6" height="2" fill="#008000"/>
<rect x="402" y="263" width="1" height="5" fill="#ff0000"/>
<rect x="399.5" y="250.5" width="5" height="12" fill="none" stroke="#ff0000"/>
<rect x="409" y="242" width="1" height="11" fill="#008000"/>
<rect x="406" y="251" width="6" height="1" fill="#008000"/>
<rect x="416" y="253" width="1" height="1" fill="#ff0000"/>
<rect x="413.5" y="245.5" width="5" height="7" fill="none" stroke="#ff0000"/>
<rect x="423" y="240" width="1" height="5" fill="#008000"/>
<rect x="420" y="241" width="6" height="1" fill="#008000"/>
<rect x="430" y="241" width="1" height="5" fill="#008000"/>
<rect x="427" y="242" width="6" height="3" fill="#008000"/>
<rect x="437" y="236" width="1" height="1" fill="#ff0000"/>
<rect x="437" y="245" width="1" height="3" fill="#ff0000"/>
<rect x="434.5" y="237.5" width="5" height="7" fill="none" stroke="#ff0000"/>
<rect x="444" y="234" width="1" height="9" fill="#008000"/>
<rect x="441" y="236" width="6" height="6" fill="#008000"/>
<rect x="451" y="240" width="1" height="7" fill="#008000"/>
<rect x="448" y="242" width="6" height="1" fill="#008000"/>
<rect x="458" y="238" width="1" height="6" fill="#008000"/>
<rect x="455" y="243" width="6" height="1" fill="#008000"/>
<rect x="465" y="243" width="1" height="14" fill="#008000"/>
<rect x="462" y="243" width="6" height="7" fill="#008000"/>
<rect x="472" y="241" width="1" height="1" fill="#ff0000"/>
<rect x="472" y="253" width="1" height="2" fill="#ff0000"/>
<rect x="469.5" y="242.5" width="5" height="10" fill="none" stroke="#ff0000"/>
<rect x="479" y="242" width="1" height="10" fill="#008000"/>
<rect x="476" y="242" width="6" height="6" fill="#008000"/>
<rect x="486" y="240" width="1" height="7" fill="#ff0000"/>
<rect x="486" y="250" width="1" height="1" fill="#ff0000"/>
<rect x="483.5" y="247.5" width="5" height="2" fill="none" stroke="#ff0000"/>
<rect x="493" y="246" width="1" height="3" fill="#ff0000"/>
<rect x="490.5" y="236.5" width="5" height="9" fill="none" stroke="#ff0000"/>
<rect x="500" y="237" width="1" height="2" fill="#ff0000"/>
<rect x="497.5" y="234.5" width="5" height="2" fill="none" stroke="#ff0000"/>
<rect x="507" y="233" width="1" height="6" fill="#ff0000"/>
<rect x="504" y="236" width="6" height="1" fill="#ff0000"/>
<rect x="514" y="225" width="1" height="1" fill="#ff0000"/>
<rect x="511.5" y="226.5" width="5" height="10" fill="none" stroke="#ff0000"/>
<rect x="521" y="217" width="1" height="1" fill="#ff0000"/>
<rect x="521" y="226" width="1" height="1" fill="#ff0000"/>
<rect x="518.5" y="218.5" width="5" height="7" fill="none" stroke="#ff0000"/>
<rect x="528" y="221" width="1" height="8" fill="#008000"/>
<rect x="525" y="221" width="6" height="7" fill="#008000"/>
<rect x="535" y="229" width="1" height="7" fill="#008000"/>
<rect x="532" y="229" width="6" height="5" fill="#008000"/>
<rect x="542" y="233" width="1" height="21" fill="#008000"/>
<rect x="539" y="235" width="6" height="16" fill="#008000"/>
<rect x="549" y="255" width="1" height="3" fill="#ff0000"/>
<rect x="546.5" y="249.5" width="5" height="5" fill="none" stroke="#ff0000"/>
<rect x="556" y="247" width="1" height="4" fill="#008000"/>
<rect x="553" y="250" width="6" height="1" fill="#008000"/>
<rect x="563" y="245" width="1" height="1" fill="#ff0000"/>
<rect x="563" y="251" width="1" height="1" fill="#ff0000"/>
<rect x="560.5" y="246.5" width="5" height="4" fill="none" stroke="#ff0000"/>
<rect x="570" y="247" width="1" height="7" fill="#008000"/>
<rect x="567" y="247" width="6" height="3" fill="#008000"/>
<rect x="574.5" y="242.5" width="5" height="7" fill="none" stroke="#ff0000"/>
<rect x="584" y="240" width="1" height="4" fill="#ff0000"/>
<rect x="584" y="247" width="1" height="3" fill="#ff0000"/>
<rect x="581.5" y="244.5" width="5" height="2" fill="none" stroke="#ff0000"/>
<rect x="591" y="236" width="1" height="2" fill="#ff0000"/>
<rect x="588.5" y="238.5" width="5" height="4" fill="none" stroke="#ff0000"/>
<rect x="598" y="236" width="1" height="5" fill="#008000"/>
<rect x="595" y="236" width="6" height="1" fill="#008000"/>
<rect x="605" y="231" width="1" height="1" fill="#ff0000"/>
<rect x="605" y="237" width="1" height="3" fill="#ff0000"/>
<rect x="602.5" y="232.5" width="5" height="4" fill="none" stroke="#ff0000"/>
<rect x="612" y="228" width="1" height="2" fill="#ff0000"/>
<rect x="612" y="236" width="1" height="2" fill="#ff0000"/>
<rect x="609.5" y="230.5" width="5" height="5" fill="none" stroke="#ff0000"/>
<rect x="619" y="230" width="1" height="5" fill="#008000"/>
<rect x="616" y="230" width="6" height="2" fill="#008000"/>
<rect x="626" y="229" width="1" height="8" fill="#ff0000"/>
<rect x="623" y="232" width="6" height="1" fill="#ff0000"/>
<rect x="633" y="229" width="1" height="1" fill="#ff0000"/>
<rect x="633" y="233" width="1" height="6" fill="#ff0000"/>
<rect x="630.5" y="230.5" width="5" height="2" fill="none" stroke="#ff0000"/>
<rect x="640" y="231" width="1" height="13" fill="#008000"/>
<rect x="637" y="231" width="6" height="12" fill="#008000"/>
<rect x="647" y="239" width="1" height="6" fill="#ff0000"/>
<rect x="654" y="236" width="1" height="3" fill="#ff0000"/>
<rect x="651.5" y="239.5" width="5" height="6" fill="none" stroke="#ff0000"/>
<rect x="661" y="238" width="1" height="2" fill="#ff0000"/>
<rect x="658.5" y="228.5" width="5" height="9" fill="none" stroke="#ff0000"/>
<rect x="668" y="229" width="1" height="3" fill="#ff0000"/>
<rect x="665.5" y="226.5" width="5" height="2" fill="none" stroke="#ff0000"/>
<rect x="675" y="225" width="1" height="5" fill="#008000"/>
<rect x="672" y="227" width="6" height="1" fill="#008000"/>
<rect x="682" y="230" width="1" height="8" fill="#008000"/>
<rect x="679" y="230" width="6" height="4" fill="#008000"/>
<rect x="689" y="228" width="1" height="4" fill="#ff0000"/>
<rect x="686.5" y="232.5" width="5" height="5" fill="none" stroke="#ff0000"/>
<rect x="696" y="232" width="1" height="5" fill="#008000"/>
<rect x="693" y="233" width="6" height="2" fill="#008000"/>
<rect x="703" y="222" width="1" height="2" fill="#ff0000"/>
<rect x="700.5" y="224.5" width="5" height="12" fill="none" stroke="#ff0000"/>
<rect x="710" y="217" width="1" height="8" fill="#ff0000"/>
<rect x="707" y="222" width="6" height="2" fill="#ff0000"/>
<rect x="717" y="206" width="1" height="2" fill="#ff0000"/>
<rect x="714.5" y="208.5" width="5" height="12" fill="none" stroke="#ff0000"/>
<rect x="724" y="196" width="1" height="1" fill="#ff0000"/>
<rect x="724" y="206" width="1" height="1" fill="#ff0000"/>
<rect x="721.5" y="197.5" width="5" height="8" fill="none" stroke="#ff0000"/>
<rect x="731" y="168" width="1" height="1" fill="#ff0000"/>
<rect x="728.5" y="169.5" width="5" height="22" fill="none" stroke="#ff0000"/>
<rect x="738" y="161" width="1" height="12" fill="#ff0000"/>
<rect x="735" y="167" width="6" height="1" fill="#ff0000"/>
<rect x="745" y="161" width="1" height="9" fill="#ff0000"/>
<rect x="742" y="168" width="6" height="1" fill="#ff0000"/>
<rect x="752" y="156" width="1" height="1" fill="#ff0000"/>
<rect x="752" y="168" width="1" height="4" fill="#ff0000"/>
<rect x="749.5" y="157.5" width="5" height="10" fill="none" stroke="#ff0000"/>
<rect x="759" y="149" width="1" height="17" fill="#008000"/>
<rect x="756" y="161" width="6" height="5" fill="#008000"/>
<rect x="766" y="163" width="1" height="2" fill="#ff0000"/>
<rect x="763.5" y="146.5" width="5" height="16" fill="none" stroke="#ff0000"/>
<rect x="773" y="145" width="1" height="9" fill="#008000"/>
<rect x="770" y="145" width="6" height="2" fill="#008000"/>
<rect x="780" y="145" width="1" height="16" fill="#ff0000"/>
<rect x="777" y="148" width="6" height="2" fill="#ff0000"/>
<rect x="787" y="148" width="1" height="17" fill="#008000"/>
<rect x="784" y="149" width="6" height="15" fill="#008000"/>
<rect x="794" y="158" width="1" height="3" fill="#ff0000"/>
<rect x="794" y="164" width="1" height="4" fill="#ff0000"/>
<rect x="791.5" y="161.5" width="5" height="2" fill="none" stroke="#ff0000"/>
<rect x="801" y="144" width="1" height="1" fill="#ff0000"/>
<rect x="801" y="158" width="1" height="1" fill="#ff0000"/>
<rect x="798.5" y="145.5" width="5" height="12" fill="none" stroke="#ff0000"/>
<rect x="808" y="146" width="1" height="6" fill="#008000"/>
<rect x="805" y="146" width="6" height="1" fill="#008000"/>
<rect x="815" y="142" width="1" height="14" fill="#008000"/>
<rect x="812" y="146" width="6" height="1" fill="#008000"/>
<rect x="822" y="142" width="1" height="13" fill="#008000"/>
<rect x="819" y="146" width="6" height="8" fill="#008000"/>
<rect x="829" y="141" width="1" height="3" fill="#ff0000"/>
<rect x="829" y="154" width="1" height="2" fill="#ff0000"/>
<rect x="826.5" y="144.5" width="5" height="9" fill="none" stroke="#ff0000"/>
<rect x="836" y="136" width="1" height="1" fill="#ff0000"/>
<rect x="836" y="142" width="1" height="1" fill="#ff0000"/>
<rect x="833.5" y="137.5" width="5" height="4" fill="none" stroke="#ff0000"/>
<rect x="843" y="133" width="1" height="10" fill="#ff0000"/>
<rect x="840" y="134" width="6" height="1" fill="#ff0000"/>
<rect x="850" y="133" width="1" height="7" fill="#008000"/>
<rect x="847" y="136" width="6" height="1" fill="#008000"/>
<rect x="857" y="137" width="1" height="15" fill="#008000"/>
<rect x="854" y="137" width="6" height="4" fill="#008000"/>
<rect x="864" y="135" width="1" height="1" fill="#ff0000"/>
<rect x="864" y="142" width="1" height="2" fill="#ff0000"/>
<rect x="861.5" y="136.5" width="5" height="5" fill="none" stroke="#ff0000"/>
<rect x="871" y="136" width="1" height="9" fill="#008000"/>
<rect x="868" y="136" width="6" height="6" fill="#008000"/>
<rect x="878" y="141" width="1" height="16" fill="#008000"/>
<rect x="875" y="144" width="6" height="9" fill="#008000"/>
<rect x="885" y="149" width="1" height="7" fill="#ff0000"/>
<rect x="882" y="152" width="6" height="2" fill="#ff0000"/>
<rect x="892" y="149" width="1" height="11" fill="#008000"/>
<rect x="889" y="152" width="6" height="8" fill="#008000"/>
<rect x="899" y="157" width="1" height="4" fill="#ff0000"/>
<rect x="896.5" y="149.5" width="5" height="7" fill="none" stroke="#ff0000"/>
<rect x="906" y="147" width="1" height="1" fill="#ff0000"/>
<rect x="903.5" y="139.5" width="5" height="7" fill="none" stroke="#ff0000"/>
<rect x="913" y="122" width="1" height="1" fill="#ff0000"/>
<rect x="913" y="137" width="1" height="3" fill="#ff0000"/>
<rect x="910.5" y="123.5" width="5" height="13" fill="none" stroke="#ff0000"/>
<rect x="920" y="110" width="1" height="1" fill="#ff0000"/>
<rect x="917.5" y="111.5" width="5" height="10" fill="none" stroke="#ff0000"/>
<rect x="927" y="110" width="1" height="3" fill="#ff0000"/>
<rect x="924.5" y="101.5" width="5" height="8" fill="none" stroke="#ff0000"/>
<rect x="934" y="90" width="1" height="2" fill="#ff0000"/>
<rect x="934" y="98" width="1" height="3" fill="#ff0000"/>
<rect x="931.5" y="92.5" width="5" height="5" fill="none" stroke="#ff0000"/>
<rect x="941" y="89" width="1" height="8" fill="#008000"/>
<rect x="938" y="90" width="6" height="1" fill="#008000"/>
<rect x="948" y="94" width="1" height="8" fill="#008000"/>
<rect x="945" y="95" width="6" height="1" fill="#008000"/>
<rect x="955" y="83" width="1" height="19" fill="#008000"/>
<rect x="952" y="97" width="6" height="2" fill="#008000"/>
<rect x="962" y="101" width="1" height="2" fill="#ff0000"/>
<rect x="959.5" y="88.5" width="5" height="12" fill="none" stroke="#ff0000"/>
<rect x="969" y="89" width="1" height="4" fill="#ff0000"/>
<rect x="966.5" y="84.5" width="5" height="4" fill="none" stroke="#ff0000"/>
<rect x="976" y="81" width="1" height="27" fill="#008000"/>
<rect x="973" y="83" width="6" height="24" fill="#008000"/>
<rect x="983" y="100" width="1" height="1" fill="#ff0000"/>
<rect x="983" y="104" width="1" height="10" fill="#ff0000"/>
<rect x="980.5" y="101.5" width="5" height="2" fill="none" stroke="#ff0000"/>
<rect x="990" y="94" width="1" height="3" fill="#ff0000"/>
<rect x="990" y="103" width="1" height="2" fill="#ff0000"/>
<rect x="987.5" y="97.5" width="5" height="5" fill="none" stroke="#ff0000"/>
<rect x="997" y="88" width="1" height="1" fill="#ff0000"/>
<rect x="997" y="97" width="1" height="4" fill="#ff0000"/>
<rect x="994.5" y="89.5" width="5" height="7" fill="none" stroke="#ff0000"/>
<rect x="1004" y="92" width="1" height="21" fill="#008000"/>
<rect x="1001" y="92" width="6" height="18" fill="#008000"/>
<rect x="1011" y="99" width="1" height="1" fill="#ff0000"/>
<rect x="1008.5" y="100.5" width="5" height="10" fill="none" stroke="#ff0000"/>
<rect x="1018" y="81" width="1" height="1" fill="#ff0000"/>
<rect x="1018" y="103" width="1" height="3" fill="#ff0000"/>
<rect x="1015.5" y="82.5" width="5" height="20" fill="none" stroke="#ff0000"/>
<rect x="1025" y="71" width="1" height="14" fill="#008000"/>
<rect x="1022" y="77" width="6" height="4" fill="#008000"/>
<clipPath id="mc"><rect x="0" y="14" width="1240" height="382"/></clipPath>
<g clip-path="url(#mc)">
<polyline points="73.0,117.8 100.0,124.5 118.8,124.5 126.3,122.5 140.0,122.5 143.8,123.8 152.5,122.0 180.0,121.5 192.5,118.3 200.0,115.3 205.0,117.5 213.8,113.3 225.0,112.5 241.3,109.0 272.5,109.0 281.3,111.3 286.3,111.3 290.0,110.0 301.3,110.0 320.0,118.3 328.8,121.5 340.0,126.5 345.0,127.0 352.5,125.8 365.0,129.5 370.5,129.5 385.0,132.5 400.0,135.8 408.8,134.5 427.5,138.3 455.0,138.3 468.8,144.5 490.0,144.5 506.3,147.5 512.5,146.3 530.0,146.3 540.0,148.3 548.8,149.5 560.0,154.5 582.5,159.0 605.0,163.3 620.0,164.5 630.0,166.3 642.5,166.3 647.5,167.5 652.5,166.3 666.0,166.5 678.5,166.5 680.2,167.3 686.0,167.3 687.7,166.5 691.0,166.5 696.0,168.3 699.3,168.3 706.0,167.0 714.3,166.2 724.3,164.5 737.7,158.3 747.7,157.8 759.3,152.0 772.7,146.2 786.0,140.8 790.0,139.8 801.3,135.4 812.6,133.5 822.6,129.1 836.4,126.6 842.7,123.2 855.2,120.3 870.3,115.3 877.8,112.2 881.0,112.2 883.5,113.4 886.6,113.2 900.4,107.1 915.5,99.0 931.8,91.4 946.3,84.6 952.6,80.8 967.6,72.7 976.4,65.1 985.2,62.6 992.0,58.3 1012.0,48.3 1024.5,39.0 1039.5,34.5 1054.5,32.0 1068.3,31.3 1074.5,33.3 1089.5,32.5 1107.0,35.8 1119.5,36.5 1132.0,39.0 1144.5,39.0 1169.5,42.0 1194.5,42.8 1219.5,45.0 1229.5,44.0 1235.3,45.3" fill="none" stroke="#ff0000" stroke-width="1" />
<polyline points="73.0,172.5 81.3,172.5 105.0,177.5 125.0,177.5 135.0,176.5 152.5,176.5 155.0,175.3 180.0,175.3 200.0,171.5 206.3,172.5 213.8,169.5 225.0,168.3 238.8,165.3 255.0,165.3 262.5,164.0 277.5,165.8 292.5,166.5 307.5,169.0 325.0,173.3 338.8,178.3 356.3,178.8 365.0,180.3 370.0,180.3 380.0,181.5 392.5,183.8 412.5,183.8 430.0,185.8 435.0,184.5 455.0,184.5 477.5,188.3 497.5,188.3 500.0,189.5 517.5,189.5 520.0,188.3 525.0,188.3 527.5,189.5 535.0,189.5 540.0,190.8 550.0,190.8 555.0,193.3 575.0,197.5 600.0,199.8 603.8,201.4 615.7,201.4 617.0,202.7 637.0,202.7 638.3,203.5 650.2,203.5 651.5,202.7 671.5,202.7 672.8,201.4 678.4,201.4 679.7,202.7 685.3,202.7 686.6,201.4 692.9,201.4 694.1,202.7 699.1,202.7 700.4,201.4 713.6,201.4 714.8,200.5 720.5,200.5 728.0,198.3 733.0,196.2 756.0,190.3 772.7,183.3 799.3,175.0 816.0,171.7 824.3,167.8 836.0,165.7 849.3,161.2 866.0,156.7 871.0,155.7 877.7,152.8 886.0,152.8 887.7,152.0 892.7,149.0 901.0,147.0 915.5,139.8 928.0,134.7 937.0,130.5 946.0,127.0 959.3,121.2 982.7,109.5 1004.3,98.7 1016.0,92.0 1026.0,87.0 1036.0,83.7 1049.3,78.7 1067.0,75.8 1087.0,73.3 1132.0,72.0 1182.0,69.5 1235.3,66.3" fill="none" stroke="#0000ff" stroke-width="1" />
<polyline points="73.0,232.8 92.5,235.8 120.0,237.5 172.5,236.5 200.0,235.0 232.5,229.5 260.0,228.3 293.8,229.5 300.0,232.0 307.7,232.8 329.3,236.2 344.3,237.3 366.0,237.0 382.7,238.2 392.7,239.5 404.3,239.5 407.7,238.3 426.0,238.2 428.5,237.0 454.3,237.0 456.8,236.2 466.0,236.2 469.3,237.0 522.7,237.0 526.0,236.2 537.7,236.2 549.3,238.3 562.7,240.3 574.3,242.4 582.7,242.5 592.7,243.5 596.0,244.3 643.3,244.3 645.2,243.3 664.0,243.3 665.3,242.3 677.8,242.3 679.0,241.4 699.1,241.4 700.4,240.4 720.5,240.4 721.7,239.5 742.5,234.0 785.0,222.8 816.0,215.3 873.0,199.0 932.0,180.0 962.0,167.0 1007.0,150.0 1037.0,137.0 1062.0,127.0 1094.5,118.3 1132.0,109.5 1182.0,99.5 1235.3,90.8" fill="none" stroke="#000" stroke-width="1" />
<polyline points="73.0,313.3 80.0,314.5 87.5,314.5 93.8,316.5 100.0,315.3 106.3,316.5 121.3,320.3 140.0,320.3 145.0,319.0 160.0,319.0 162.5,318.3 200.0,318.3 207.5,316.5 212.5,317.5 225.0,315.8 237.5,315.3 250.0,314.0 257.5,312.0 265.0,312.0 267.5,313.3 287.5,313.3 295.0,315.3 305.0,318.8 312.5,317.5 317.5,318.8 327.5,318.8 340.0,315.8 347.5,315.8 352.5,317.0 360.0,314.5 370.0,314.0 390.0,314.0 407.5,312.0 427.5,308.3 447.5,308.3 465.0,303.3 482.5,303.3 487.5,304.5 505.0,302.5 525.0,302.0 535.0,300.3 545.0,300.3 550.0,301.5 557.5,300.3 565.0,300.3 570.0,301.5 580.0,301.5 590.0,303.8 600.0,303.8 610.0,301.5 630.0,301.3 645.0,298.3 670.0,297.0 680.0,295.3 695.0,293.8 720.0,293.3 737.5,290.3 747.5,286.5 767.5,285.0 802.5,279.0 812.5,275.0 827.5,272.5 840.0,267.5 855.0,264.5 880.0,259.5 890.0,255.0 917.5,250.0 930.0,244.5 947.0,237.8 962.0,235.3 969.5,231.5 977.0,231.5 984.5,228.3 997.0,223.8 1019.5,219.5 1037.0,210.3 1057.0,198.3 1074.5,187.8 1094.5,179.0 1112.0,170.0 1132.0,161.3 1157.0,150.8 1182.0,141.5 1207.0,133.3 1235.3,122.5" fill="none" stroke="#0000ff" stroke-width="1" />
<polyline points="73.0,387.0 80.0,388.8 86.3,387.5 93.8,389.5 100.0,388.3 110.0,391.3 122.5,395.8 137.5,395.8 142.5,393.8 147.5,395.0 155.0,393.8 172.5,393.8 177.5,392.5 185.0,393.8 192.5,393.8 198.8,396.3 207.0,391.5 213.8,395.0 220.0,392.8 245.0,392.8 256.3,389.5 272.5,389.5 275.0,390.8 286.3,390.8 292.5,392.5 297.5,395.3 301.0,397.0 304.5,396.5 310.0,395.0 330.0,391.5 340.0,387.5 347.5,386.5 352.5,387.5 360.0,385.8 367.5,383.3 370.0,383.8 385.0,383.3 397.5,380.8 410.0,380.3 425.0,373.3 430.0,372.5 447.5,372.5 455.0,370.3 465.0,363.8 480.0,363.8 487.5,365.0 505.0,360.8 525.0,360.3 542.5,357.5 550.0,358.8 556.3,355.3 562.5,356.5 585.0,356.5 592.5,357.8 610.0,353.5 622.5,353.3 635.0,350.3 647.5,347.0 655.0,348.3 670.0,345.8 680.0,344.0 690.0,343.3 696.3,340.3 701.3,341.5 720.0,341.5 725.0,340.8 732.5,342.0 738.8,340.8 747.5,335.8 760.0,335.3 766.3,336.5 780.0,334.5 802.5,333.8 812.5,329.5 827.5,326.5 837.5,322.0 855.0,318.8 870.0,315.3 880.0,314.5 887.5,310.0 905.0,307.8 915.0,307.0 930.0,303.3 937.5,299.5 947.5,295.8 957.5,295.3 970.0,292.5 976.3,293.8 982.5,290.8 990.5,289.3 1001.5,286.7 1009.0,285.0 1014.0,285.0 1016.5,286.3 1024.0,285.0 1026.0,284.1 1032.8,277.2 1037.9,275.4 1049.2,266.0 1060.5,256.5 1066.7,254.0 1070.5,249.0 1074.9,244.9 1081.8,241.5 1089.5,238.1 1107.0,224.0 1117.0,219.0 1132.0,207.5 1152.0,197.5 1172.0,184.5 1182.0,181.5 1194.5,175.8 1207.0,168.3 1219.5,163.3 1235.3,153.3" fill="none" stroke="#ff0000" stroke-width="1" />
</g>
<g shape-rendering="auto">
<line x1="73.5" y1="277.5" x2="93.5" y2="272.5" stroke="#0000ff" shape-rendering="crispEdges"/>
<line x1="1025.5" y1="71.5" x2="1045.5" y2="76.5" stroke="#0000ff" shape-rendering="crispEdges"/>
<text x="94" y="275.5" font-size="12" fill="#0000ff" textLength="58.5" lengthAdjust="spacingAndGlyphs">1974.3800</text>
<text x="1046" y="87.5" font-size="12" fill="#0000ff" textLength="58.5" lengthAdjust="spacingAndGlyphs">2365.1499</text>
</g>
<polygon points="483,400.5 490.5,400.5 486.8,396.0" fill="#000" shape-rendering="auto"/>
<rect x="73" y="531" width="1" height="21" fill="#008000"/>
<rect x="80" y="531" width="1" height="18" fill="#008000"/>
<rect x="87" y="531" width="1" height="17" fill="#008000"/>
<rect x="94" y="531" width="1" height="12" fill="#008000"/>
<rect x="101" y="531" width="1" height="7" fill="#008000"/>
<rect x="108" y="531" width="1" height="4" fill="#008000"/>
<rect x="115" y="531" width="1" height="7" fill="#008000"/>
<rect x="122" y="530" width="1" height="2" fill="#ff0000"/>
<rect x="129" y="523" width="1" height="9" fill="#ff0000"/>
<rect x="136" y="518" width="1" height="14" fill="#ff0000"/>
<rect x="143" y="516" width="1" height="16" fill="#ff0000"/>
<rect x="150" y="518" width="1" height="14" fill="#ff0000"/>
<rect x="157" y="520" width="1" height="12" fill="#ff0000"/>
<rect x="164" y="524" width="1" height="8" fill="#ff0000"/>
<rect x="171" y="524" width="1" height="8" fill="#ff0000"/>
<rect x="178" y="522" width="1" height="10" fill="#ff0000"/>
<rect x="185" y="524" width="1" height="8" fill="#ff0000"/>
<rect x="192" y="523" width="1" height="9" fill="#ff0000"/>
<rect x="199" y="517" width="1" height="15" fill="#ff0000"/>
<rect x="206" y="513" width="1" height="19" fill="#ff0000"/>
<rect x="213" y="507" width="1" height="25" fill="#ff0000"/>
<rect x="220" y="505" width="1" height="27" fill="#ff0000"/>
<rect x="227" y="505" width="1" height="27" fill="#ff0000"/>
<rect x="234" y="511" width="1" height="21" fill="#ff0000"/>
<rect x="241" y="516" width="1" height="16" fill="#ff0000"/>
<rect x="248" y="521" width="1" height="11" fill="#ff0000"/>
<rect x="255" y="525" width="1" height="7" fill="#ff0000"/>
<rect x="262" y="531" width="1" height="1" fill="#008000"/>
<rect x="269" y="531" width="1" height="4" fill="#008000"/>
<rect x="276" y="531" width="1" height="9" fill="#008000"/>
<rect x="283" y="531" width="1" height="12" fill="#008000"/>
<rect x="290" y="531" width="1" height="17" fill="#008000"/>
<rect x="297" y="531" width="1" height="24" fill="#008000"/>
<rect x="304" y="531" width="1" height="25" fill="#008000"/>
<rect x="311" y="531" width="1" height="22" fill="#008000"/>
<rect x="318" y="531" width="1" height="21" fill="#008000"/>
<rect x="325" y="531" width="1" height="18" fill="#008000"/>
<rect x="332" y="531" width="1" height="18" fill="#008000"/>
<rect x="339" y="531" width="1" height="17" fill="#008000"/>
<rect x="346" y="531" width="1" height="14" fill="#008000"/>
<rect x="353" y="531" width="1" height="6" fill="#008000"/>
<rect x="360" y="531" width="1" height="1" fill="#008000"/>
<rect x="367" y="530" width="1" height="2" fill="#ff0000"/>
<rect x="374" y="530" width="1" height="2" fill="#ff0000"/>
<rect x="381" y="530" width="1" height="2" fill="#ff0000"/>
<rect x="388" y="531" width="1" height="3" fill="#008000"/>
<rect x="395" y="531" width="1" height="4" fill="#008000"/>
<rect x="402" y="531" width="1" height="2" fill="#008000"/>
<rect x="409" y="531" width="1" height="1" fill="#008000"/>
<rect x="416" y="530" width="1" height="2" fill="#ff0000"/>
<rect x="423" y="527" width="1" height="5" fill="#ff0000"/>
<rect x="430" y="526" width="1" height="6" fill="#ff0000"/>
<rect x="437" y="523" width="1" height="9" fill="#ff0000"/>
<rect x="444" y="523" width="1" height="9" fill="#ff0000"/>
<rect x="451" y="524" width="1" height="8" fill="#ff0000"/>
<rect x="458" y="524" width="1" height="8" fill="#ff0000"/>
<rect x="465" y="527" width="1" height="5" fill="#ff0000"/>
<rect x="472" y="526" width="1" height="6" fill="#ff0000"/>
<rect x="479" y="528" width="1" height="4" fill="#ff0000"/>
<rect x="486" y="529" width="1" height="3" fill="#ff0000"/>
<rect x="493" y="526" width="1" height="6" fill="#ff0000"/>
<rect x="500" y="524" width="1" height="8" fill="#ff0000"/>
<rect x="507" y="524" width="1" height="8" fill="#ff0000"/>
<rect x="514" y="521" width="1" height="11" fill="#ff0000"/>
<rect x="521" y="518" width="1" height="14" fill="#ff0000"/>
<rect x="528" y="519" width="1" height="13" fill="#ff0000"/>
<rect x="535" y="523" width="1" height="9" fill="#ff0000"/>
<rect x="542" y="530" width="1" height="2" fill="#ff0000"/>
<rect x="549" y="531" width="1" height="1" fill="#008000"/>
<rect x="556" y="531" width="1" height="5" fill="#008000"/>
<rect x="563" y="531" width="1" height="5" fill="#008000"/>
<rect x="570" y="531" width="1" height="7" fill="#008000"/>
<rect x="577" y="531" width="1" height="5" fill="#008000"/>
<rect x="584" y="531" width="1" height="4" fill="#008000"/>
<rect x="591" y="531" width="1" height="1" fill="#008000"/>
<rect x="598" y="530" width="1" height="2" fill="#ff0000"/>
<rect x="605" y="529" width="1" height="3" fill="#ff0000"/>
<rect x="612" y="527" width="1" height="5" fill="#ff0000"/>
<rect x="619" y="526" width="1" height="6" fill="#ff0000"/>
<rect x="626" y="526" width="1" height="6" fill="#ff0000"/>
<rect x="633" y="525" width="1" height="7" fill="#ff0000"/>
<rect x="640" y="529" width="1" height="3" fill="#ff0000"/>
<rect x="654" y="531" width="1" height="1" fill="#008000"/>
<rect x="661" y="530" width="1" height="2" fill="#ff0000"/>
<rect x="668" y="528" width="1" height="4" fill="#ff0000"/>
<rect x="675" y="527" width="1" height="5" fill="#ff0000"/>
<rect x="682" y="529" width="1" height="3" fill="#ff0000"/>
<rect x="689" y="530" width="1" height="2" fill="#ff0000"/>
<rect x="696" y="530" width="1" height="2" fill="#ff0000"/>
<rect x="703" y="529" width="1" height="3" fill="#ff0000"/>
<rect x="710" y="527" width="1" height="5" fill="#ff0000"/>
<rect x="717" y="523" width="1" height="9" fill="#ff0000"/>
<rect x="724" y="517" width="1" height="15" fill="#ff0000"/>
<rect x="731" y="507" width="1" height="25" fill="#ff0000"/>
<rect x="738" y="500" width="1" height="32" fill="#ff0000"/>
<rect x="745" y="500" width="1" height="32" fill="#ff0000"/>
<rect x="752" y="498" width="1" height="34" fill="#ff0000"/>
<rect x="759" y="501" width="1" height="31" fill="#ff0000"/>
<rect x="766" y="500" width="1" height="32" fill="#ff0000"/>
<rect x="773" y="502" width="1" height="30" fill="#ff0000"/>
<rect x="780" y="505" width="1" height="27" fill="#ff0000"/>
<rect x="787" y="514" width="1" height="18" fill="#ff0000"/>
<rect x="794" y="520" width="1" height="12" fill="#ff0000"/>
<rect x="801" y="521" width="1" height="11" fill="#ff0000"/>
<rect x="808" y="523" width="1" height="9" fill="#ff0000"/>
<rect x="815" y="526" width="1" height="6" fill="#ff0000"/>
<rect x="822" y="530" width="1" height="2" fill="#ff0000"/>
<rect x="843" y="530" width="1" height="2" fill="#ff0000"/>
<rect x="850" y="531" width="1" height="1" fill="#008000"/>
<rect x="857" y="531" width="1" height="4" fill="#008000"/>
<rect x="864" y="531" width="1" height="5" fill="#008000"/>
<rect x="871" y="531" width="1" height="8" fill="#008000"/>
<rect x="878" y="531" width="1" height="13" fill="#008000"/>
<rect x="885" y="531" width="1" height="16" fill="#008000"/>
<rect x="892" y="531" width="1" height="20" fill="#008000"/>
<rect x="899" y="531" width="1" height="19" fill="#008000"/>
<rect x="906" y="531" width="1" height="15" fill="#008000"/>
<rect x="913" y="531" width="1" height="8" fill="#008000"/>
<rect x="927" y="525" width="1" height="7" fill="#ff0000"/>
<rect x="934" y="518" width="1" height="14" fill="#ff0000"/>
<rect x="941" y="516" width="1" height="16" fill="#ff0000"/>
<rect x="948" y="517" width="1" height="15" fill="#ff0000"/>
<rect x="955" y="520" width="1" height="12" fill="#ff0000"/>
<rect x="962" y="520" width="1" height="12" fill="#ff0000"/>
<rect x="969" y="520" width="1" height="12" fill="#ff0000"/>
<rect x="976" y="528" width="1" height="4" fill="#ff0000"/>
<rect x="983" y="531" width="1" height="1" fill="#008000"/>
<rect x="990" y="531" width="1" height="3" fill="#008000"/>
<rect x="997" y="531" width="1" height="3" fill="#008000"/>
<rect x="1004" y="531" width="1" height="9" fill="#008000"/>
<rect x="1011" y="531" width="1" height="11" fill="#008000"/>
<rect x="1018" y="531" width="1" height="6" fill="#008000"/>
<rect x="1019" y="531" width="1" height="1" fill="#008000"/>
<rect x="1025" y="531" width="1" height="4" fill="#008000"/>
<rect x="1026" y="531" width="1" height="1" fill="#008000"/>
<rect x="1032" y="531" width="1" height="3" fill="#008000"/>
<rect x="1033" y="531" width="1" height="1" fill="#008000"/>
<rect x="1039" y="531" width="1" height="2" fill="#008000"/>
<rect x="1040" y="531" width="1" height="1" fill="#008000"/>
<rect x="1046" y="531" width="1" height="3" fill="#008000"/>
<rect x="1047" y="531" width="1" height="1" fill="#008000"/>
<rect x="1053" y="531" width="1" height="4" fill="#008000"/>
<rect x="1054" y="531" width="1" height="1" fill="#008000"/>
<rect x="1060" y="531" width="1" height="5" fill="#008000"/>
<rect x="1061" y="531" width="1" height="1" fill="#008000"/>
<rect x="1067" y="531" width="1" height="6" fill="#008000"/>
<rect x="1068" y="531" width="1" height="1" fill="#008000"/>
<rect x="1074" y="531" width="1" height="6" fill="#008000"/>
<rect x="1075" y="531" width="1" height="1" fill="#008000"/>
<rect x="1081" y="531" width="1" height="7" fill="#008000"/>
<rect x="1082" y="531" width="1" height="1" fill="#008000"/>
<rect x="1088" y="531" width="1" height="8" fill="#008000"/>
<rect x="1089" y="531" width="1" height="1" fill="#008000"/>
<rect x="1095" y="531" width="1" height="9" fill="#008000"/>
<rect x="1096" y="531" width="1" height="1" fill="#008000"/>
<rect x="1102" y="531" width="1" height="9" fill="#008000"/>
<rect x="1103" y="531" width="1" height="1" fill="#008000"/>
<rect x="1109" y="531" width="1" height="9" fill="#008000"/>
<rect x="1110" y="531" width="1" height="1" fill="#008000"/>
<rect x="1116" y="531" width="1" height="9" fill="#008000"/>
<rect x="1117" y="531" width="1" height="1" fill="#008000"/>
<rect x="1123" y="531" width="1" height="9" fill="#008000"/>
<rect x="1124" y="531" width="1" height="1" fill="#008000"/>
<rect x="1130" y="531" width="1" height="9" fill="#008000"/>
<rect x="1131" y="531" width="1" height="1" fill="#008000"/>
<rect x="1137" y="531" width="1" height="9" fill="#008000"/>
<rect x="1138" y="531" width="1" height="1" fill="#008000"/>
<rect x="1144" y="531" width="1" height="9" fill="#008000"/>
<rect x="1145" y="531" width="1" height="1" fill="#008000"/>
<rect x="1151" y="531" width="1" height="9" fill="#008000"/>
<rect x="1152" y="531" width="1" height="1" fill="#008000"/>
<rect x="1158" y="531" width="1" height="9" fill="#008000"/>
<rect x="1159" y="531" width="1" height="1" fill="#008000"/>
<rect x="1165" y="531" width="1" height="9" fill="#008000"/>
<rect x="1166" y="531" width="1" height="1" fill="#008000"/>
<rect x="1172" y="531" width="1" height="8" fill="#008000"/>
<rect x="1173" y="531" width="1" height="1" fill="#008000"/>
<rect x="1179" y="531" width="1" height="8" fill="#008000"/>
<rect x="1180" y="531" width="1" height="1" fill="#008000"/>
<rect x="1186" y="531" width="1" height="8" fill="#008000"/>
<rect x="1187" y="531" width="1" height="1" fill="#008000"/>
<rect x="1193" y="531" width="1" height="7" fill="#008000"/>
<rect x="1194" y="531" width="1" height="1" fill="#008000"/>
<rect x="1200" y="531" width="1" height="7" fill="#008000"/>
<rect x="1201" y="531" width="1" height="1" fill="#008000"/>
<rect x="1207" y="531" width="1" height="6" fill="#008000"/>
<rect x="1208" y="531" width="1" height="1" fill="#008000"/>
<rect x="1214" y="531" width="1" height="6" fill="#008000"/>
<rect x="1215" y="531" width="1" height="1" fill="#008000"/>
<rect x="1221" y="531" width="1" height="6" fill="#008000"/>
<rect x="1222" y="531" width="1" height="1" fill="#008000"/>
<rect x="1228" y="531" width="1" height="5" fill="#008000"/>
<rect x="1229" y="531" width="1" height="1" fill="#008000"/>
<rect x="1235" y="531" width="1" height="5" fill="#008000"/>
<rect x="1236" y="531" width="1" height="1" fill="#008000"/>
<clipPath id="xc"><rect x="885" y="531" width="1" height="17"/></clipPath>
<line x1="885.5" x2="885.5" y1="464" y2="557" stroke="#ff80ff" stroke-dasharray="3 3" clip-path="url(#xc)"/>
<polyline points="73.7,540.0 80.0,542.0 86.7,544.0 93.3,546.2 100.0,547.5 110.0,547.8 115.0,548.7 123.3,548.3 133.3,547.0 150.0,542.5 166.7,539.5 183.3,536.5 200.0,534.0 210.0,529.2 220.0,524.5 230.0,520.0 240.0,517.3 251.7,515.3 260.0,515.3 273.3,516.7 286.7,519.2 300.0,525.0 313.3,530.8 323.3,533.3 333.3,537.5 343.3,540.3 350.0,542.5 366.7,542.5 383.3,542.8 393.3,543.7 416.7,543.3 433.3,540.7 455.0,537.0 466.7,537.0 480.0,535.7 493.3,535.3 513.3,531.2 526.7,528.7 533.3,527.0 543.3,527.0 553.3,527.8 563.3,529.5 573.3,529.5 583.3,531.2 600.0,531.5 608.3,531.2 616.7,529.5 630.0,528.3 658.3,528.3 675.0,527.0 706.7,526.2 723.3,522.8 733.3,517.8 743.3,512.8 753.3,506.2 766.7,499.5 780.0,492.5 793.3,489.2 800.0,487.5 806.7,486.7 818.3,486.5 823.3,485.3 845.0,485.3 851.7,486.7 863.3,487.0 873.3,489.2 885.0,491.5 896.7,495.7 910.0,499.5 926.7,499.5 943.3,494.5 960.0,490.3 973.3,488.3 983.3,488.3 998.3,489.5 1015.0,493.3 1026.7,493.7 1030.0,494.5 1048.3,494.5 1070.0,496.7 1086.7,499.5 1103.3,502.5 1120.0,505.0 1136.7,508.3 1153.9,510.9 1167.8,512.7 1181.7,515.1 1195.6,517.1 1209.4,518.9 1217.8,520.3 1228.9,520.8 1234.9,521.4" fill="none" stroke="#0000ff" stroke-width="1" />
<polyline points="73.7,551.5 80.0,551.5 87.5,553.3 90.8,553.3 100.0,551.2 110.0,550.3 115.0,552.8 123.3,547.8 130.0,542.8 141.7,537.0 148.3,535.3 168.3,535.3 176.7,533.7 190.0,532.3 200.0,525.5 210.0,520.3 218.3,512.8 227.5,508.2 235.0,509.2 243.3,509.5 251.7,511.2 255.8,511.2 257.5,512.8 261.7,516.2 270.0,518.7 280.0,523.3 290.0,528.7 298.3,536.5 310.0,542.0 326.7,544.5 336.7,547.0 343.3,548.3 346.7,548.3 353.3,544.5 360.0,542.8 368.3,541.7 376.7,541.7 383.3,543.3 391.7,544.8 398.3,544.8 405.8,544.2 416.7,542.0 430.0,537.8 441.7,535.0 450.0,534.0 470.0,533.7 476.7,534.5 486.7,534.5 493.3,532.8 506.7,529.5 515.0,526.2 523.3,522.8 531.7,522.0 538.3,524.5 546.7,527.8 556.7,531.2 566.7,532.8 570.0,533.7 583.3,533.7 593.3,532.0 600.0,530.3 605.0,529.5 611.7,527.3 620.0,527.0 625.0,526.2 631.7,525.3 635.0,525.7 638.3,527.0 643.3,527.8 658.3,527.8 666.7,525.7 691.7,525.7 700.0,525.3 710.0,524.0 718.3,520.0 723.3,516.7 728.3,510.3 738.3,500.3 745.0,495.3 753.3,490.3 760.0,488.3 766.7,483.7 773.3,480.0 779.2,479.2 783.3,480.3 790.0,482.0 795.0,483.3 800.0,482.3 811.7,482.3 820.0,484.5 828.3,486.5 833.3,486.5 835.8,485.3 845.0,485.3 853.3,487.3 865.0,489.5 873.3,493.7 885.0,500.3 888.3,502.0 896.7,505.7 900.0,506.5 906.7,506.5 916.7,502.0 923.3,498.3 933.3,491.7 941.7,487.5 950.0,486.2 956.7,486.2 966.7,483.3 970.0,483.7 978.3,488.2 983.3,489.5 996.7,491.2 1000.0,492.8 1006.7,496.2 1011.7,497.3 1021.7,495.3 1033.3,495.3 1036.7,496.5 1048.3,496.5 1066.7,499.0 1078.3,502.0 1088.3,503.2 1100.0,506.2 1110.0,508.7 1126.7,511.5 1131.7,511.2 1136.7,513.3 1153.9,516.2 1167.8,517.6 1177.5,519.4 1188.6,519.6 1198.3,521.4 1205.3,522.4 1217.8,522.7 1223.3,523.5 1234.9,524.5" fill="none" stroke="#000" stroke-width="1" />
<g shape-rendering="auto">
<text x="70.8" y="10.8" font-size="9" fill="#a0a0a0" textLength="20.5" lengthAdjust="spacingAndGlyphs" >03-12</text>
<text x="130" y="10.8" font-size="9" fill="#a0a0a0" textLength="20.5" lengthAdjust="spacingAndGlyphs" >03-26</text>
<text x="200" y="10.8" font-size="9" fill="#a0a0a0" textLength="20.5" lengthAdjust="spacingAndGlyphs" >04-10</text>
<text x="270" y="10.8" font-size="9" fill="#a0a0a0" textLength="20.5" lengthAdjust="spacingAndGlyphs" >04-24</text>
<text x="340" y="10.8" font-size="9" fill="#a0a0a0" textLength="20.5" lengthAdjust="spacingAndGlyphs" >05-12</text>
<text x="410" y="10.8" font-size="9" fill="#a0a0a0" textLength="20.5" lengthAdjust="spacingAndGlyphs" >05-26</text>
<text x="480" y="10.8" font-size="9" fill="#a0a0a0" textLength="20.5" lengthAdjust="spacingAndGlyphs" >06-10</text>
<text x="550" y="10.8" font-size="9" fill="#a0a0a0" textLength="20.5" lengthAdjust="spacingAndGlyphs" >06-24</text>
<text x="620" y="10.8" font-size="9" fill="#a0a0a0" textLength="20.5" lengthAdjust="spacingAndGlyphs" >07-08</text>
<text x="690" y="10.8" font-size="9" fill="#a0a0a0" textLength="20.5" lengthAdjust="spacingAndGlyphs" >07-22</text>
<text x="760" y="10.8" font-size="9" fill="#a0a0a0" textLength="20.5" lengthAdjust="spacingAndGlyphs" >08-05</text>
<text x="830" y="10.8" font-size="9" fill="#a0a0a0" textLength="20.5" lengthAdjust="spacingAndGlyphs" >08-19</text>
<text x="900" y="10.8" font-size="9" fill="#a0a0a0" textLength="20.5" lengthAdjust="spacingAndGlyphs" >09-02</text>
<text x="970" y="10.8" font-size="9" fill="#a0a0a0" textLength="20.5" lengthAdjust="spacingAndGlyphs" >09-17</text>
<text x="1040" y="10.8" font-size="9" fill="#a0a0a0" textLength="20.5" lengthAdjust="spacingAndGlyphs" >10-01</text>
<text x="1110" y="10.8" font-size="9" fill="#a0a0a0" textLength="20.5" lengthAdjust="spacingAndGlyphs" >10-15</text>
<text x="1180" y="10.8" font-size="9" fill="#a0a0a0" textLength="20.5" lengthAdjust="spacingAndGlyphs" >10-29</text>
<text x="3.5" y="17.2" font-size="12" fill="#0000ff" textLength="30.5" lengthAdjust="spacingAndGlyphs" >日K线</text>
<text x="71" y="25.5" font-size="12" fill="#000" textLength="50" lengthAdjust="spacingAndGlyphs" >极反通道</text>
<text x="141" y="26.5" font-size="11" fill="#ff0000" textLength="69" lengthAdjust="spacingAndGlyphs" >Tp=2414.5165</text>
<text x="219.5" y="26.5" font-size="11" fill="#0000ff" textLength="71" lengthAdjust="spacingAndGlyphs" >Up=2372.6416</text>
<text x="298.5" y="26.5" font-size="11" fill="#000" textLength="72" lengthAdjust="spacingAndGlyphs" >Md=2325.3520</text>
<text x="377.5" y="26.5" font-size="11" fill="#0000ff" textLength="70.5" lengthAdjust="spacingAndGlyphs" >Dn=2261.3216</text>
<text x="456.5" y="26.5" font-size="11" fill="#ff0000" textLength="67" lengthAdjust="spacingAndGlyphs" >Bt=2203.4506</text>
<text x="1140.5" y="26.5" font-size="12" fill="#0000ff" textLength="39" lengthAdjust="spacingAndGlyphs" font-family="'Liberation Serif',serif" >1A0001</text>
<text x="1189.5" y="26.5" font-size="12" fill="#0000ff" textLength="49.5" lengthAdjust="spacingAndGlyphs" >上证指数</text>
<text x="14" y="395.0" font-size="12" fill="#383838" textLength="54" lengthAdjust="spacingAndGlyphs" font-family="'Liberation Serif',serif" >1749.1233</text>
<text x="14" y="418.0" font-size="12" fill="#383838" textLength="54" lengthAdjust="spacingAndGlyphs" font-family="'Liberation Serif',serif" >220141170</text>
<text x="14" y="434.0" font-size="12" fill="#383838" textLength="54" lengthAdjust="spacingAndGlyphs" font-family="'Liberation Serif',serif" >146760780</text>
<text x="20" y="450.0" font-size="12" fill="#383838" textLength="48" lengthAdjust="spacingAndGlyphs" font-family="'Liberation Serif',serif" >73380390</text>
<text x="3" y="476.0" font-size="12" fill="#0000ff" textLength="27" lengthAdjust="spacingAndGlyphs" font-family="'Liberation Serif',serif" >MACD</text>
<text x="76" y="476.0" font-size="11" fill="#000" textLength="43.5" lengthAdjust="spacingAndGlyphs" >DIF=6.13</text>
<text x="146.5" y="476.0" font-size="11" fill="#0000ff" textLength="48.5" lengthAdjust="spacingAndGlyphs" >DEA=8.59</text>
<text x="217.5" y="476.0" font-size="11" fill="#ff00ff" textLength="61" lengthAdjust="spacingAndGlyphs" >MACD=-4.92</text>
<text x="38" y="488.0" font-size="12" fill="#383838" textLength="30" lengthAdjust="spacingAndGlyphs" font-family="'Liberation Serif',serif" >39.56</text>
<text x="38" y="506.0" font-size="12" fill="#383838" textLength="30" lengthAdjust="spacingAndGlyphs" font-family="'Liberation Serif',serif" >24.28</text>
<text x="44" y="524.0" font-size="12" fill="#383838" textLength="24" lengthAdjust="spacingAndGlyphs" font-family="'Liberation Serif',serif" >9.00</text>
<rect x="36" y="513" width="32" height="3" fill="#fff"/><rect x="38" y="516" width="5" height="1" fill="#505050"/><rect x="38" y="517" width="1" height="1" fill="#505050"/>
<text x="38" y="542.0" font-size="12" fill="#383838" textLength="30" lengthAdjust="spacingAndGlyphs" font-family="'Liberation Serif',serif" >-6.28</text>
</g>
</svg>
</body></html>
